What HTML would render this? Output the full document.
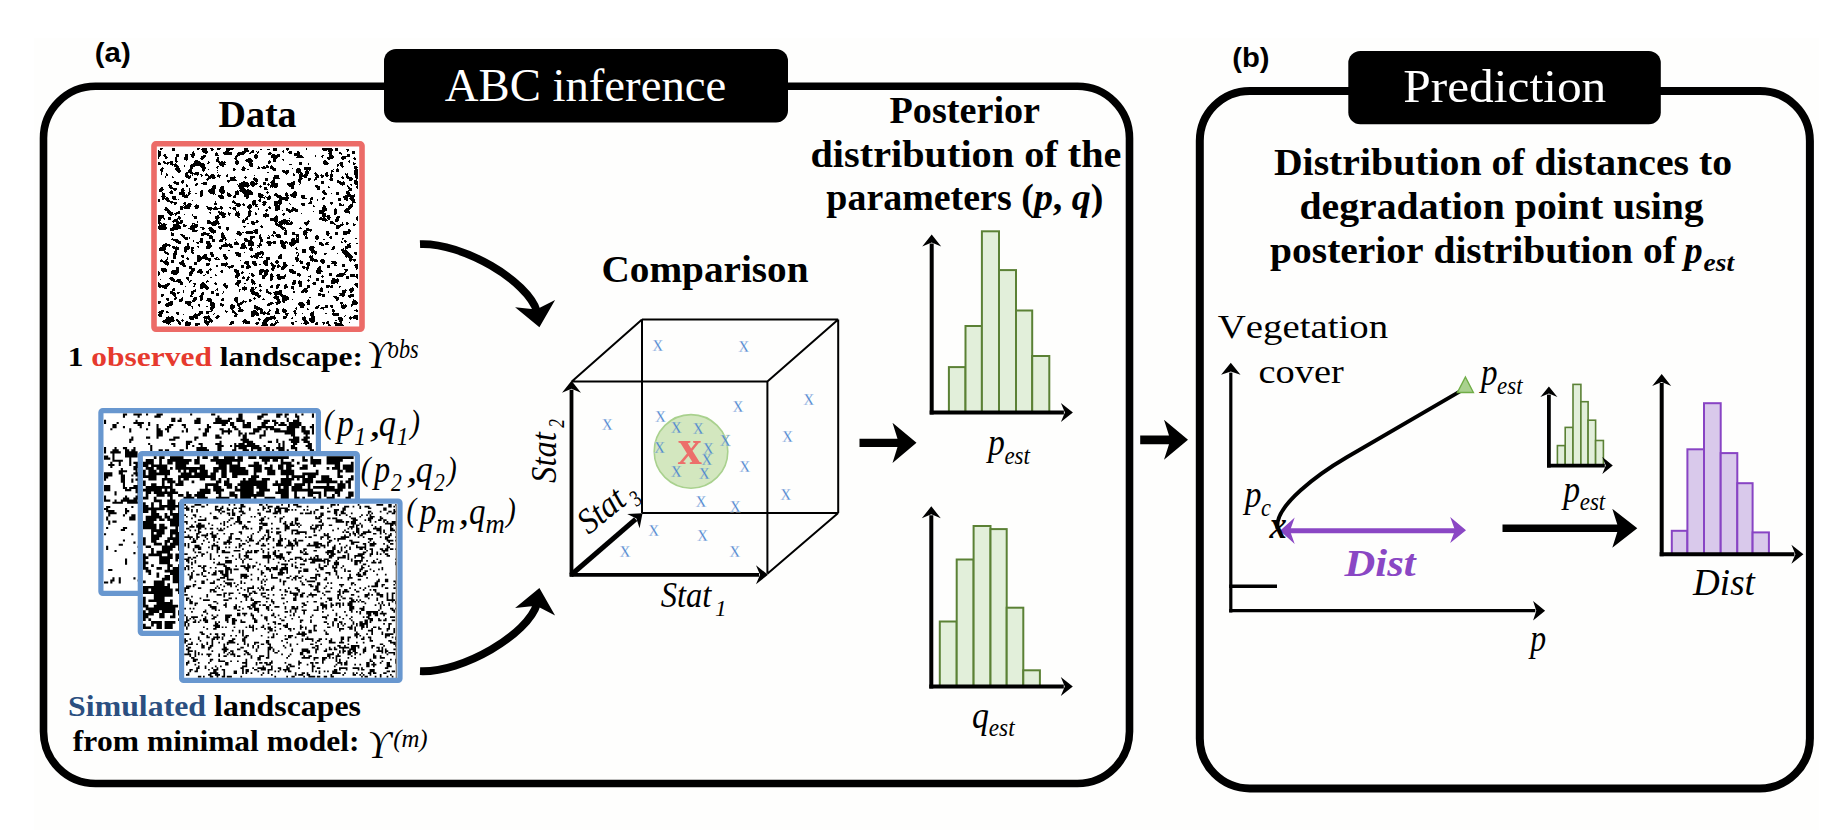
<!DOCTYPE html>
<html><head><meta charset="utf-8"><title>ABC inference and prediction</title>
<style>html,body{margin:0;padding:0;background:#fff;width:1848px;height:830px;overflow:hidden}svg{display:block}</style>
</head><body>
<svg width="1848" height="830" viewBox="0 0 1848 830" style="font-kerning:none;font-variant-ligatures:none">
<rect width="1848" height="830" fill="#fff"/>
<rect x="34" y="38" width="1785" height="792" fill="#fefefd"/>
<rect x="43.5" y="86.3" width="1086" height="697.2" rx="52" ry="52" fill="none" stroke="#000" stroke-width="7.6"/>
<rect x="1199.8" y="90.9" width="610.1" height="697.5" rx="50" ry="50" fill="none" stroke="#000" stroke-width="8"/>
<rect x="384" y="49" width="404" height="73.5" rx="12" fill="#000"/>
<rect x="1348.3" y="51" width="312.5" height="73.3" rx="12" fill="#000"/>
<text transform="translate(444.74 100.90) scale(0.9880 1)" fill="#fff"><tspan x="0.00" y="0" font-family="'Liberation Serif', serif" font-size="47.3">ABC inference</tspan></text>
<text transform="translate(1403.28 102.40) scale(1.0512 1)" fill="#fff"><tspan x="0.00" y="0" font-family="'Liberation Serif', serif" font-size="47">Prediction</tspan></text>
<text transform="translate(94.73 62.00) scale(1.0531 1)" fill="#000"><tspan x="0.00" y="0" font-family="'Liberation Sans', Arial, sans-serif" font-size="28" font-weight="bold">(a)</tspan></text>
<text transform="translate(1232.24 66.90) scale(1.0436 1)" fill="#000"><tspan x="0.00" y="0" font-family="'Liberation Sans', Arial, sans-serif" font-size="28" font-weight="bold">(b)</tspan></text>
<text transform="translate(218.43 126.50) scale(1.0006 1)" fill="#000"><tspan x="0.00" y="0" font-family="'Liberation Serif', serif" font-size="38" font-weight="bold">Data</tspan></text>
<rect x="154" y="143.8" width="208" height="185.5" rx="2" fill="#fff" stroke="#ec6b67" stroke-width="5.6"/>
<g transform="translate(158 148) scale(1)"><path d="M2 0.5h3M14 0.5h3M39 0.5h3M44 0.5h5M52 0.5h3M59 0.5h4M68 0.5h8M86 0.5h4M115 0.5h4M128 0.5h3M148 0.5h1M164 0.5h10M177 0.5h3M2 1.5h2M14 1.5h3M39 1.5h2M43 1.5h6M53 1.5h3M59 1.5h3M68 1.5h7M86 1.5h4M102 1.5h2M109 1.5h3M115 1.5h4M128 1.5h3M148 1.5h1M164 1.5h11M177 1.5h3M188 1.5h3M0 2.5h1M14 2.5h3M44 2.5h5M53 2.5h2M68 2.5h4M86 2.5h5M94 2.5h2M115 2.5h4M125 2.5h1M129 2.5h1M165 2.5h4M170 2.5h5M177 2.5h3M189 2.5h2M0 3.5h3M35 3.5h1M44 3.5h6M67 3.5h4M84 3.5h7M93 3.5h3M98 3.5h1M100 3.5h1M124 3.5h2M131 3.5h3M139 3.5h2M170 3.5h4M189 3.5h1M194 3.5h3M0 4.5h3M34 4.5h2M45 4.5h5M58 4.5h1M65 4.5h9M80 4.5h8M92 4.5h4M99 4.5h2M111 4.5h2M125 4.5h1M130 4.5h4M139 4.5h3M171 4.5h3M181 4.5h2M194 4.5h3M0 5.5h3M34 5.5h3M47 5.5h2M57 5.5h3M65 5.5h9M79 5.5h8M91 5.5h2M99 5.5h1M110 5.5h4M131 5.5h3M136 5.5h6M170 5.5h4M181 5.5h3M194 5.5h3M0 6.5h3M6 6.5h2M18 6.5h3M27 6.5h3M32 6.5h5M57 6.5h3M66 6.5h8M79 6.5h7M97 6.5h2M110 6.5h3M114 6.5h3M119 6.5h3M136 6.5h6M171 6.5h3M183 6.5h1M189 6.5h3M0 7.5h3M5 7.5h3M18 7.5h3M27 7.5h3M33 7.5h4M45 7.5h3M57 7.5h4M78 7.5h4M96 7.5h4M113 7.5h9M136 7.5h8M157 7.5h1M164 7.5h2M171 7.5h4M189 7.5h3M0 8.5h2M6 8.5h3M18 8.5h3M27 8.5h3M33 8.5h3M43 8.5h5M77 8.5h3M96 8.5h4M113 8.5h9M139 8.5h6M157 8.5h1M163 8.5h2M171 8.5h5M184 8.5h8M0 9.5h1M7 9.5h3M17 9.5h2M26 9.5h4M34 9.5h2M43 9.5h4M59 9.5h2M77 9.5h2M96 9.5h4M113 9.5h7M138 9.5h8M164 9.5h1M169 9.5h7M183 9.5h5M196 9.5h1M0 10.5h1M7 10.5h2M17 10.5h2M26 10.5h4M42 10.5h4M59 10.5h2M76 10.5h3M90 10.5h3M97 10.5h2M115 10.5h4M169 10.5h6M183 10.5h5M195 10.5h3M17 11.5h2M26 11.5h4M43 11.5h2M58 11.5h3M77 11.5h2M88 11.5h6M115 11.5h3M124 11.5h2M170 11.5h2M184 11.5h2M196 11.5h2M17 12.5h2M28 12.5h1M37 12.5h3M58 12.5h3M78 12.5h2M87 12.5h8M111 12.5h1M115 12.5h3M125 12.5h1M166 12.5h2M191 12.5h1M5 13.5h2M12 13.5h3M17 13.5h3M36 13.5h6M50 13.5h1M58 13.5h4M63 13.5h2M66 13.5h1M77 13.5h4M88 13.5h7M110 13.5h3M115 13.5h3M165 13.5h4M190 13.5h2M0 14.5h2M5 14.5h3M9 14.5h6M18 14.5h1M36 14.5h7M50 14.5h2M60 14.5h8M77 14.5h4M90 14.5h4M110 14.5h3M141 14.5h3M165 14.5h5M182 14.5h3M191 14.5h1M195 14.5h1M0 15.5h3M6 15.5h5M12 15.5h3M17 15.5h1M35 15.5h11M49 15.5h2M61 15.5h6M77 15.5h4M91 15.5h4M110 15.5h2M141 15.5h3M150 15.5h1M165 15.5h6M181 15.5h4M195 15.5h3M0 16.5h3M9 16.5h1M12 16.5h7M33 16.5h14M61 16.5h7M78 16.5h2M91 16.5h4M131 16.5h3M141 16.5h3M150 16.5h1M166 16.5h4M179 16.5h2M182 16.5h3M195 16.5h2M14 17.5h1M16 17.5h4M26 17.5h1M32 17.5h15M62 17.5h4M91 17.5h4M108 17.5h2M113 17.5h1M179 17.5h2M182 17.5h3M16 18.5h5M26 18.5h1M32 18.5h5M42 18.5h5M59 18.5h2M64 18.5h2M85 18.5h1M92 18.5h3M100 18.5h1M105 18.5h2M108 18.5h3M112 18.5h3M179 18.5h1M183 18.5h3M196 18.5h3M4 19.5h1M18 19.5h3M32 19.5h3M43 19.5h5M58 19.5h2M84 19.5h3M100 19.5h2M103 19.5h8M112 19.5h4M146 19.5h7M184 19.5h1M196 19.5h4M3 20.5h3M17 20.5h5M32 20.5h3M44 20.5h4M59 20.5h1M75 20.5h2M84 20.5h4M99 20.5h3M104 20.5h4M112 20.5h6M134 20.5h1M139 20.5h3M146 20.5h7M179 20.5h1M196 20.5h3M2 21.5h3M17 21.5h5M31 21.5h3M44 21.5h3M50 21.5h1M75 21.5h3M83 21.5h4M89 21.5h2M114 21.5h4M138 21.5h5M146 21.5h7M175 21.5h1M178 21.5h3M197 21.5h3M2 22.5h3M18 22.5h5M30 22.5h4M44 22.5h3M59 22.5h1M75 22.5h2M84 22.5h3M115 22.5h3M124 22.5h3M128 22.5h3M138 22.5h5M148 22.5h2M151 22.5h1M173 22.5h2M178 22.5h3M196 22.5h4M3 23.5h2M19 23.5h4M30 23.5h4M45 23.5h1M124 23.5h7M138 23.5h5M147 23.5h4M173 23.5h3M178 23.5h3M196 23.5h4M3 24.5h1M20 24.5h2M28 24.5h7M37 24.5h4M59 24.5h1M109 24.5h2M125 24.5h6M138 24.5h6M147 24.5h4M157 24.5h1M168 24.5h2M173 24.5h1M196 24.5h4M3 25.5h1M8 25.5h1M27 25.5h3M32 25.5h9M48 25.5h1M127 25.5h3M135 25.5h1M140 25.5h1M142 25.5h3M147 25.5h4M156 25.5h3M167 25.5h3M173 25.5h1M187 25.5h1M189 25.5h1M196 25.5h4M3 26.5h1M8 26.5h2M27 26.5h3M34 26.5h1M36 26.5h5M42 26.5h2M47 26.5h3M53 26.5h3M60 26.5h1M69 26.5h1M128 26.5h1M135 26.5h2M141 26.5h4M146 26.5h4M157 26.5h3M163 26.5h1M167 26.5h3M172 26.5h3M187 26.5h3M196 26.5h4M8 27.5h2M27 27.5h4M32 27.5h1M34 27.5h1M39 27.5h1M43 27.5h2M47 27.5h4M52 27.5h5M59 27.5h4M68 27.5h2M96 27.5h1M116 27.5h5M135 27.5h2M141 27.5h9M157 27.5h4M162 27.5h4M167 27.5h4M172 27.5h3M188 27.5h2M197 27.5h3M7 28.5h1M14 28.5h1M27 28.5h6M43 28.5h1M50 28.5h7M59 28.5h3M68 28.5h2M76 28.5h1M87 28.5h1M116 28.5h5M141 28.5h8M158 28.5h3M163 28.5h3M168 28.5h2M172 28.5h3M184 28.5h1M188 28.5h3M197 28.5h3M7 29.5h1M14 29.5h2M28 29.5h5M50 29.5h8M61 29.5h1M72 29.5h6M86 29.5h3M96 29.5h1M115 29.5h6M141 29.5h3M146 29.5h3M157 29.5h4M163 29.5h2M172 29.5h2M183 29.5h3M188 29.5h6M197 29.5h3M30 30.5h2M36 30.5h3M49 30.5h4M54 30.5h3M72 30.5h5M87 30.5h1M95 30.5h4M107 30.5h3M115 30.5h7M141 30.5h4M150 30.5h3M157 30.5h2M172 30.5h3M184 30.5h2M189 30.5h6M198 30.5h2M36 31.5h3M48 31.5h3M72 31.5h6M95 31.5h5M107 31.5h3M115 31.5h2M140 31.5h4M150 31.5h3M156 31.5h3M171 31.5h4M191 31.5h4M198 31.5h1M24 32.5h2M36 32.5h2M49 32.5h1M69 32.5h10M96 32.5h4M107 32.5h3M114 32.5h3M140 32.5h3M150 32.5h2M156 32.5h1M172 32.5h3M179 32.5h2M191 32.5h3M196 32.5h3M16 33.5h2M23 33.5h3M69 33.5h3M85 33.5h2M93 33.5h3M97 33.5h3M113 33.5h4M135 33.5h2M140 33.5h3M163 33.5h3M179 33.5h4M185 33.5h1M196 33.5h4M15 34.5h6M23 34.5h3M45 34.5h4M70 34.5h1M83 34.5h7M92 34.5h5M98 34.5h1M105 34.5h3M112 34.5h5M133 34.5h4M141 34.5h2M163 34.5h3M179 34.5h8M196 34.5h4M16 35.5h5M24 35.5h1M38 35.5h2M43 35.5h6M81 35.5h10M92 35.5h8M105 35.5h3M110 35.5h1M113 35.5h7M129 35.5h8M142 35.5h1M163 35.5h3M181 35.5h6M196 35.5h4M11 36.5h1M18 36.5h3M28 36.5h1M37 36.5h3M45 36.5h4M79 36.5h1M81 36.5h10M92 36.5h7M105 36.5h3M109 36.5h3M113 36.5h7M129 36.5h8M141 36.5h1M182 36.5h5M192 36.5h2M197 36.5h3M10 37.5h4M28 37.5h2M37 37.5h2M55 37.5h3M80 37.5h12M93 37.5h4M102 37.5h1M110 37.5h1M112 37.5h8M130 37.5h6M157 37.5h3M184 37.5h1M189 37.5h1M193 37.5h1M199 37.5h1M11 38.5h3M28 38.5h2M54 38.5h4M63 38.5h3M80 38.5h11M94 38.5h2M101 38.5h3M112 38.5h8M131 38.5h5M157 38.5h5M170 38.5h1M189 38.5h2M198 38.5h2M3 39.5h2M11 39.5h4M54 39.5h4M62 39.5h4M81 39.5h5M89 39.5h1M102 39.5h1M106 39.5h3M112 39.5h1M114 39.5h1M116 39.5h3M133 39.5h3M158 39.5h4M170 39.5h2M190 39.5h2M198 39.5h2M2 40.5h3M12 40.5h7M24 40.5h2M31 40.5h1M53 40.5h5M62 40.5h4M81 40.5h6M106 40.5h3M133 40.5h3M159 40.5h3M190 40.5h4M199 40.5h1M1 41.5h5M15 41.5h4M23 41.5h3M31 41.5h1M51 41.5h6M61 41.5h5M82 41.5h6M89 41.5h2M106 41.5h4M159 41.5h3M191 41.5h3M1 42.5h4M13 42.5h1M16 42.5h2M23 42.5h4M31 42.5h1M43 42.5h2M50 42.5h7M61 42.5h6M79 42.5h1M81 42.5h12M165 42.5h2M190 42.5h4M1 43.5h3M12 43.5h3M23 43.5h3M31 43.5h2M42 43.5h3M50 43.5h7M61 43.5h6M77 43.5h4M82 43.5h12M109 43.5h1M136 43.5h2M164 43.5h3M188 43.5h3M4 44.5h1M11 44.5h4M21 44.5h6M30 44.5h2M42 44.5h3M51 44.5h6M62 44.5h5M69 44.5h1M77 44.5h4M84 44.5h11M108 44.5h3M128 44.5h1M135 44.5h4M164 44.5h4M178 44.5h3M188 44.5h4M4 45.5h3M12 45.5h3M21 45.5h6M30 45.5h3M37 45.5h2M42 45.5h3M52 45.5h5M63 45.5h3M69 45.5h3M77 45.5h4M85 45.5h10M100 45.5h3M109 45.5h1M117 45.5h2M127 45.5h3M134 45.5h5M165 45.5h4M173 45.5h1M178 45.5h3M188 45.5h4M4 46.5h3M21 46.5h6M28 46.5h1M30 46.5h2M42 46.5h3M55 46.5h1M57 46.5h1M63 46.5h1M69 46.5h4M77 46.5h4M86 46.5h9M100 46.5h5M116 46.5h4M127 46.5h3M132 46.5h7M166 46.5h3M178 46.5h3M189 46.5h4M196 46.5h1M4 47.5h3M24 47.5h7M42 47.5h3M60 47.5h5M69 47.5h5M76 47.5h2M86 47.5h5M100 47.5h6M111 47.5h1M116 47.5h7M127 47.5h4M132 47.5h7M143 47.5h4M187 47.5h10M3 48.5h5M14 48.5h4M24 48.5h6M42 48.5h2M60 48.5h6M70 48.5h3M75 48.5h3M86 48.5h5M100 48.5h5M107 48.5h1M110 48.5h3M118 48.5h6M128 48.5h2M133 48.5h5M143 48.5h4M185 48.5h12M4 49.5h3M8 49.5h2M14 49.5h4M26 49.5h4M61 49.5h5M75 49.5h3M88 49.5h3M101 49.5h6M108 49.5h5M119 49.5h12M135 49.5h3M143 49.5h4M153 49.5h2M165 49.5h2M185 49.5h5M192 49.5h4M4 50.5h7M14 50.5h4M62 50.5h4M88 50.5h2M102 50.5h1M106 50.5h1M109 50.5h4M121 50.5h10M144 50.5h5M152 50.5h3M164 50.5h3M180 50.5h3M186 50.5h4M191 50.5h5M0 51.5h2M4 51.5h2M7 51.5h4M15 51.5h4M20 51.5h1M101 51.5h2M109 51.5h3M121 51.5h9M152 51.5h3M159 51.5h1M164 51.5h2M180 51.5h3M186 51.5h4M192 51.5h5M0 52.5h2M8 52.5h4M34 52.5h1M75 52.5h1M95 52.5h3M100 52.5h3M120 52.5h4M127 52.5h3M152 52.5h1M159 52.5h1M180 52.5h3M188 52.5h2M193 52.5h4M0 53.5h2M9 53.5h6M57 53.5h1M74 53.5h3M94 53.5h4M101 53.5h2M105 53.5h3M116 53.5h8M152 53.5h2M194 53.5h3M12 54.5h7M26 54.5h2M57 54.5h1M74 54.5h4M94 54.5h4M104 54.5h5M116 54.5h8M151 54.5h3M172 54.5h3M194 54.5h4M13 55.5h1M16 55.5h3M25 55.5h3M30 55.5h3M56 55.5h3M76 55.5h6M85 55.5h1M94 55.5h4M105 55.5h3M116 55.5h8M131 55.5h1M143 55.5h4M150 55.5h4M172 55.5h3M181 55.5h2M194 55.5h1M16 56.5h2M26 56.5h2M29 56.5h5M38 56.5h1M56 56.5h3M78 56.5h5M84 56.5h3M91 56.5h2M94 56.5h6M104 56.5h4M116 56.5h4M121 56.5h2M132 56.5h1M143 56.5h4M173 56.5h1M181 56.5h3M185 56.5h1M192 56.5h3M25 57.5h1M27 57.5h6M37 57.5h4M77 57.5h6M85 57.5h2M90 57.5h4M95 57.5h1M97 57.5h2M105 57.5h2M116 57.5h6M144 57.5h3M155 57.5h1M165 57.5h2M181 57.5h5M191 57.5h4M22 58.5h3M26 58.5h7M36 58.5h5M48 58.5h2M57 58.5h1M62 58.5h2M79 58.5h3M89 58.5h5M97 58.5h3M111 58.5h1M117 58.5h5M155 58.5h2M165 58.5h3M190 58.5h5M7 59.5h2M22 59.5h10M37 59.5h4M49 59.5h5M56 59.5h3M62 59.5h3M71 59.5h2M75 59.5h3M89 59.5h5M110 59.5h3M117 59.5h5M134 59.5h2M164 59.5h4M190 59.5h4M7 60.5h3M22 60.5h3M26 60.5h6M37 60.5h3M49 60.5h16M72 60.5h1M74 60.5h4M90 60.5h3M100 60.5h1M111 60.5h2M117 60.5h5M128 60.5h2M134 60.5h4M164 60.5h5M177 60.5h1M188 60.5h5M6 61.5h5M22 61.5h3M50 61.5h4M55 61.5h5M63 61.5h1M75 61.5h3M91 61.5h1M100 61.5h1M108 61.5h2M117 61.5h5M128 61.5h4M133 61.5h7M164 61.5h5M176 61.5h3M187 61.5h5M7 62.5h5M52 62.5h1M77 62.5h1M91 62.5h2M107 62.5h3M117 62.5h3M124 62.5h1M128 62.5h12M161 62.5h8M176 62.5h3M186 62.5h5M9 63.5h4M20 63.5h2M60 63.5h2M63 63.5h1M78 63.5h1M80 63.5h1M90 63.5h4M108 63.5h1M130 63.5h5M137 63.5h3M155 63.5h1M161 63.5h6M176 63.5h3M186 63.5h6M9 64.5h6M18 64.5h4M51 64.5h2M60 64.5h6M70 64.5h1M78 64.5h3M90 64.5h3M97 64.5h1M131 64.5h2M161 64.5h5M176 64.5h3M187 64.5h5M10 65.5h5M16 65.5h6M52 65.5h1M61 65.5h7M70 65.5h3M77 65.5h5M90 65.5h3M97 65.5h2M107 65.5h2M125 65.5h2M143 65.5h1M161 65.5h7M176 65.5h3M191 65.5h1M11 66.5h5M17 66.5h2M26 66.5h1M34 66.5h1M61 66.5h7M70 66.5h2M77 66.5h5M90 66.5h3M97 66.5h2M105 66.5h6M124 66.5h3M164 66.5h4M176 66.5h2M0 67.5h6M12 67.5h2M17 67.5h1M34 67.5h1M59 67.5h2M63 67.5h4M71 67.5h1M77 67.5h5M90 67.5h3M105 67.5h6M118 67.5h1M125 67.5h1M164 67.5h4M169 67.5h3M0 68.5h6M20 68.5h2M35 68.5h4M57 68.5h4M64 68.5h4M79 68.5h2M89 68.5h3M105 68.5h6M117 68.5h3M164 68.5h8M179 68.5h3M199 68.5h1M0 69.5h6M10 69.5h3M20 69.5h3M36 69.5h3M57 69.5h5M64 69.5h3M80 69.5h2M88 69.5h2M107 69.5h1M116 69.5h4M162 69.5h2M165 69.5h2M169 69.5h4M178 69.5h4M198 69.5h2M0 70.5h4M5 70.5h2M10 70.5h3M19 70.5h4M36 70.5h3M57 70.5h4M87 70.5h3M112 70.5h8M131 70.5h1M161 70.5h7M169 70.5h3M178 70.5h3M198 70.5h2M0 71.5h3M6 71.5h1M10 71.5h3M16 71.5h4M21 71.5h1M58 71.5h2M85 71.5h1M87 71.5h3M112 71.5h8M125 71.5h3M161 71.5h8M170 71.5h2M177 71.5h4M198 71.5h2M0 72.5h3M15 72.5h5M22 72.5h3M49 72.5h3M57 72.5h3M84 72.5h4M98 72.5h2M112 72.5h8M123 72.5h9M150 72.5h1M164 72.5h6M177 72.5h4M199 72.5h1M0 73.5h2M14 73.5h7M22 73.5h3M39 73.5h1M49 73.5h4M55 73.5h6M84 73.5h3M93 73.5h3M98 73.5h3M116 73.5h4M121 73.5h9M131 73.5h1M133 73.5h1M149 73.5h3M167 73.5h1M172 73.5h3M177 73.5h3M0 74.5h3M15 74.5h1M18 74.5h7M39 74.5h1M49 74.5h12M84 74.5h3M93 74.5h7M117 74.5h2M120 74.5h11M132 74.5h3M146 74.5h5M172 74.5h4M184 74.5h1M188 74.5h2M0 75.5h4M5 75.5h2M18 75.5h6M34 75.5h3M49 75.5h13M89 75.5h2M93 75.5h4M117 75.5h3M121 75.5h14M146 75.5h5M172 75.5h5M184 75.5h1M188 75.5h3M195 75.5h1M1 76.5h1M3 76.5h6M15 76.5h6M25 76.5h2M34 76.5h1M36 76.5h4M53 76.5h6M60 76.5h1M94 76.5h3M117 76.5h8M126 76.5h1M128 76.5h6M147 76.5h3M176 76.5h2M182 76.5h4M188 76.5h2M195 76.5h3M1 77.5h7M15 77.5h7M25 77.5h4M33 77.5h7M54 77.5h4M103 77.5h1M118 77.5h6M148 77.5h1M178 77.5h7M195 77.5h2M0 78.5h8M15 78.5h8M25 78.5h3M32 78.5h8M60 78.5h3M85 78.5h3M102 78.5h3M120 78.5h5M178 78.5h5M0 79.5h9M14 79.5h9M32 79.5h7M42 79.5h4M51 79.5h3M60 79.5h3M68 79.5h3M86 79.5h1M103 79.5h2M122 79.5h5M142 79.5h1M178 79.5h4M0 80.5h9M12 80.5h11M30 80.5h7M44 80.5h3M50 80.5h5M61 80.5h2M68 80.5h3M123 80.5h5M141 80.5h3M148 80.5h3M178 80.5h3M1 81.5h7M12 81.5h8M32 81.5h5M44 81.5h2M51 81.5h5M68 81.5h3M97 81.5h3M124 81.5h2M127 81.5h1M148 81.5h6M190 81.5h2M12 82.5h4M34 82.5h6M51 82.5h7M69 82.5h1M95 82.5h5M126 82.5h3M146 82.5h8M190 82.5h3M34 83.5h5M52 83.5h6M79 83.5h3M88 83.5h7M96 83.5h4M115 83.5h2M127 83.5h2M145 83.5h4M152 83.5h1M168 83.5h3M185 83.5h8M13 84.5h1M45 84.5h3M53 84.5h5M64 84.5h1M79 84.5h4M84 84.5h2M87 84.5h13M115 84.5h3M126 84.5h3M134 84.5h3M145 84.5h5M168 84.5h3M177 84.5h3M185 84.5h7M13 85.5h3M43 85.5h9M55 85.5h1M63 85.5h3M78 85.5h6M88 85.5h7M97 85.5h3M115 85.5h3M126 85.5h3M134 85.5h3M145 85.5h4M168 85.5h4M177 85.5h3M185 85.5h7M13 86.5h3M22 86.5h3M43 86.5h8M63 86.5h3M79 86.5h5M102 86.5h1M114 86.5h1M118 86.5h4M126 86.5h3M134 86.5h7M145 86.5h4M168 86.5h3M177 86.5h3M185 86.5h4M13 87.5h3M23 87.5h4M43 87.5h3M49 87.5h5M63 87.5h4M81 87.5h2M101 87.5h2M110 87.5h1M113 87.5h3M117 87.5h6M138 87.5h3M146 87.5h1M148 87.5h1M158 87.5h2M169 87.5h2M24 88.5h3M51 88.5h4M63 88.5h4M92 88.5h5M101 88.5h2M111 88.5h1M115 88.5h1M118 88.5h5M138 88.5h3M147 88.5h2M157 88.5h4M172 88.5h2M25 89.5h5M31 89.5h1M51 89.5h4M63 89.5h5M92 89.5h5M101 89.5h3M109 89.5h3M119 89.5h4M138 89.5h1M140 89.5h1M147 89.5h3M157 89.5h4M171 89.5h3M14 90.5h1M26 90.5h4M31 90.5h1M42 90.5h3M51 90.5h4M64 90.5h4M86 90.5h3M92 90.5h3M101 90.5h3M109 90.5h3M134 90.5h3M138 90.5h3M147 90.5h3M157 90.5h4M172 90.5h2M184 90.5h2M197 90.5h2M13 91.5h7M27 91.5h3M42 91.5h3M54 91.5h3M62 91.5h4M67 91.5h2M77 91.5h1M86 91.5h4M92 91.5h2M102 91.5h3M133 91.5h4M138 91.5h3M158 91.5h2M165 91.5h2M184 91.5h1M15 92.5h6M35 92.5h1M42 92.5h3M54 92.5h3M61 92.5h4M67 92.5h1M86 92.5h8M102 92.5h3M122 92.5h3M133 92.5h8M186 92.5h2M17 93.5h6M35 93.5h1M41 93.5h4M48 93.5h4M54 93.5h3M61 93.5h4M78 93.5h1M87 93.5h8M102 93.5h3M109 93.5h4M115 93.5h3M122 93.5h4M127 93.5h2M133 93.5h8M157 93.5h1M183 93.5h1M186 93.5h3M18 94.5h5M38 94.5h3M42 94.5h3M48 94.5h4M67 94.5h1M76 94.5h4M86 94.5h1M90 94.5h6M102 94.5h1M108 94.5h10M122 94.5h8M131 94.5h10M161 94.5h3M168 94.5h3M183 94.5h2M187 94.5h1M7 95.5h2M20 95.5h3M29 95.5h2M39 95.5h2M48 95.5h5M67 95.5h2M71 95.5h1M76 95.5h5M84 95.5h3M90 95.5h6M101 95.5h2M109 95.5h5M115 95.5h3M122 95.5h6M129 95.5h1M131 95.5h7M161 95.5h4M167 95.5h3M191 95.5h2M198 95.5h2M5 96.5h7M29 96.5h2M49 96.5h4M65 96.5h9M76 96.5h5M83 96.5h4M90 96.5h6M101 96.5h3M110 96.5h3M123 96.5h4M131 96.5h6M161 96.5h5M167 96.5h4M189 96.5h3M4 97.5h9M29 97.5h2M49 97.5h5M63 97.5h11M83 97.5h5M90 97.5h6M99 97.5h5M110 97.5h3M123 97.5h5M132 97.5h4M163 97.5h3M189 97.5h4M4 98.5h5M11 98.5h1M14 98.5h3M18 98.5h1M27 98.5h5M39 98.5h2M48 98.5h6M63 98.5h7M71 98.5h4M83 98.5h5M93 98.5h1M100 98.5h2M123 98.5h5M133 98.5h1M152 98.5h4M175 98.5h2M187 98.5h6M2 99.5h6M14 99.5h7M26 99.5h6M33 99.5h3M40 99.5h1M48 99.5h5M61 99.5h3M72 99.5h3M82 99.5h7M92 99.5h2M99 99.5h1M101 99.5h1M124 99.5h4M138 99.5h1M151 99.5h6M174 99.5h3M187 99.5h6M1 100.5h7M15 100.5h6M26 100.5h6M33 100.5h3M48 100.5h4M61 100.5h3M82 100.5h5M88 100.5h1M91 100.5h4M125 100.5h3M137 100.5h2M151 100.5h5M174 100.5h3M185 100.5h1M187 100.5h3M1 101.5h7M17 101.5h4M26 101.5h5M33 101.5h2M62 101.5h1M91 101.5h4M138 101.5h2M144 101.5h4M151 101.5h5M173 101.5h3M183 101.5h3M187 101.5h1M1 102.5h6M17 102.5h2M26 102.5h3M33 102.5h3M70 102.5h2M92 102.5h3M144 102.5h4M152 102.5h5M183 102.5h6M6 103.5h2M16 103.5h3M26 103.5h3M33 103.5h2M102 103.5h3M144 103.5h4M153 103.5h6M184 103.5h6M6 104.5h4M16 104.5h3M27 104.5h1M33 104.5h3M52 104.5h3M77 104.5h4M86 104.5h1M99 104.5h7M138 104.5h2M144 104.5h4M153 104.5h6M184 104.5h7M196 104.5h3M7 105.5h4M15 105.5h4M34 105.5h2M52 105.5h3M77 105.5h6M97 105.5h9M138 105.5h1M140 105.5h1M154 105.5h1M156 105.5h3M166 105.5h3M179 105.5h1M185 105.5h7M196 105.5h3M9 106.5h2M15 106.5h4M46 106.5h3M52 106.5h4M65 106.5h3M78 106.5h5M97 106.5h6M104 106.5h2M122 106.5h2M140 106.5h1M157 106.5h1M166 106.5h2M186 106.5h7M197 106.5h2M15 107.5h3M23 107.5h3M39 107.5h3M45 107.5h4M53 107.5h3M65 107.5h3M78 107.5h5M93 107.5h1M95 107.5h6M104 107.5h1M121 107.5h3M139 107.5h2M152 107.5h1M154 107.5h1M187 107.5h7M15 108.5h3M23 108.5h3M39 108.5h4M44 108.5h5M53 108.5h3M65 108.5h4M80 108.5h3M92 108.5h9M103 108.5h1M120 108.5h4M139 108.5h1M151 108.5h4M187 108.5h8M9 109.5h1M15 109.5h3M24 109.5h2M29 109.5h1M39 109.5h11M58 109.5h2M66 109.5h4M93 109.5h2M96 109.5h4M101 109.5h4M108 109.5h4M120 109.5h4M137 109.5h3M151 109.5h4M188 109.5h1M190 109.5h5M9 110.5h1M15 110.5h3M28 110.5h3M39 110.5h14M56 110.5h3M60 110.5h1M66 110.5h4M98 110.5h2M108 110.5h4M120 110.5h4M137 110.5h4M152 110.5h4M191 110.5h3M3 111.5h1M8 111.5h2M29 111.5h2M39 111.5h5M47 111.5h6M57 111.5h5M67 111.5h2M108 111.5h4M137 111.5h4M152 111.5h7M163 111.5h3M191 111.5h7M2 112.5h3M7 112.5h2M13 112.5h3M24 112.5h2M39 112.5h4M50 112.5h3M82 112.5h1M106 112.5h4M118 112.5h2M138 112.5h3M142 112.5h1M152 112.5h8M162 112.5h5M191 112.5h3M195 112.5h3M2 113.5h8M13 113.5h3M23 113.5h3M39 113.5h3M51 113.5h1M87 113.5h4M94 113.5h4M105 113.5h5M117 113.5h4M138 113.5h2M141 113.5h4M154 113.5h1M156 113.5h4M162 113.5h5M173 113.5h5M192 113.5h1M196 113.5h1M5 114.5h6M13 114.5h3M21 114.5h5M36 114.5h3M68 114.5h1M86 114.5h5M94 114.5h4M105 114.5h5M113 114.5h1M117 114.5h4M125 114.5h3M142 114.5h3M149 114.5h3M163 114.5h4M174 114.5h5M6 115.5h5M21 115.5h6M36 115.5h3M48 115.5h4M63 115.5h7M86 115.5h5M94 115.5h5M105 115.5h5M112 115.5h3M118 115.5h2M125 115.5h3M142 115.5h3M148 115.5h4M164 115.5h2M173 115.5h6M7 116.5h4M22 116.5h5M36 116.5h3M48 116.5h4M63 116.5h7M88 116.5h3M95 116.5h4M101 116.5h2M106 116.5h4M113 116.5h3M120 116.5h1M125 116.5h4M148 116.5h4M176 116.5h2M184 116.5h3M197 116.5h3M9 117.5h1M24 117.5h4M48 117.5h3M58 117.5h2M63 117.5h6M73 117.5h3M83 117.5h3M89 117.5h3M96 117.5h3M107 117.5h3M113 117.5h5M119 117.5h3M125 117.5h5M134 117.5h2M149 117.5h3M169 117.5h3M176 117.5h3M184 117.5h3M196 117.5h4M25 118.5h3M31 118.5h3M58 118.5h2M67 118.5h1M69 118.5h7M83 118.5h3M88 118.5h5M114 118.5h4M119 118.5h4M124 118.5h5M144 118.5h3M149 118.5h2M161 118.5h2M169 118.5h3M184 118.5h3M197 118.5h3M18 119.5h3M31 119.5h3M70 119.5h5M83 119.5h3M88 119.5h5M114 119.5h3M119 119.5h2M123 119.5h5M144 119.5h7M160 119.5h3M169 119.5h3M197 119.5h3M3 120.5h5M18 120.5h3M31 120.5h6M52 120.5h1M71 120.5h1M88 120.5h3M113 120.5h4M123 120.5h4M145 120.5h2M148 120.5h3M159 120.5h4M198 120.5h2M3 121.5h6M18 121.5h3M33 121.5h4M41 121.5h3M51 121.5h3M76 121.5h3M102 121.5h4M108 121.5h2M113 121.5h3M123 121.5h3M131 121.5h4M148 121.5h2M159 121.5h4M186 121.5h4M198 121.5h1M3 122.5h6M14 122.5h7M33 122.5h4M40 122.5h4M50 122.5h1M52 122.5h1M63 122.5h2M76 122.5h5M101 122.5h10M114 122.5h2M131 122.5h5M149 122.5h1M158 122.5h6M187 122.5h3M0 123.5h1M4 123.5h5M13 123.5h8M32 123.5h4M39 123.5h6M48 123.5h3M62 123.5h3M76 123.5h5M84 123.5h1M101 123.5h10M131 123.5h7M158 123.5h7M187 123.5h2M0 124.5h2M5 124.5h1M13 124.5h8M31 124.5h4M39 124.5h6M48 124.5h3M63 124.5h2M77 124.5h4M83 124.5h3M101 124.5h4M106 124.5h4M132 124.5h6M158 124.5h5M186 124.5h2M0 125.5h2M13 125.5h7M31 125.5h4M42 125.5h2M49 125.5h2M78 125.5h4M83 125.5h2M91 125.5h1M93 125.5h2M101 125.5h3M106 125.5h4M113 125.5h1M134 125.5h4M139 125.5h3M159 125.5h4M171 125.5h3M181 125.5h6M0 126.5h2M15 126.5h4M31 126.5h3M47 126.5h1M57 126.5h1M78 126.5h4M93 126.5h3M101 126.5h3M106 126.5h4M112 126.5h3M119 126.5h3M127 126.5h1M139 126.5h4M171 126.5h3M179 126.5h9M192 126.5h5M198 126.5h2M0 127.5h1M31 127.5h3M45 127.5h2M57 127.5h2M77 127.5h5M93 127.5h4M104 127.5h5M112 127.5h3M118 127.5h4M126 127.5h2M139 127.5h4M152 127.5h1M164 127.5h1M171 127.5h3M178 127.5h8M192 127.5h5M198 127.5h2M77 128.5h4M85 128.5h1M90 128.5h1M94 128.5h2M104 128.5h4M112 128.5h4M119 128.5h9M141 128.5h1M150 128.5h3M163 128.5h3M178 128.5h7M188 128.5h3M192 128.5h8M12 129.5h3M28 129.5h3M52 129.5h2M77 129.5h3M84 129.5h3M89 129.5h3M104 129.5h3M112 129.5h3M119 129.5h8M152 129.5h1M164 129.5h1M188 129.5h3M198 129.5h2M11 130.5h5M28 130.5h3M79 130.5h1M84 130.5h3M89 130.5h2M104 130.5h3M112 130.5h3M119 130.5h8M158 130.5h3M174 130.5h3M179 130.5h1M188 130.5h3M199 130.5h1M2 131.5h1M12 131.5h5M19 131.5h4M29 131.5h2M88 131.5h3M93 131.5h2M112 131.5h3M120 131.5h3M150 131.5h1M158 131.5h3M174 131.5h7M13 132.5h4M18 132.5h5M30 132.5h1M32 132.5h2M49 132.5h1M79 132.5h4M88 132.5h2M93 132.5h3M112 132.5h2M135 132.5h3M141 132.5h1M149 132.5h3M158 132.5h3M163 132.5h3M173 132.5h8M15 133.5h9M31 133.5h2M48 133.5h3M79 133.5h4M93 133.5h4M135 133.5h3M140 133.5h4M150 133.5h1M163 133.5h3M173 133.5h8M0 134.5h1M20 134.5h5M31 134.5h1M44 134.5h2M48 134.5h1M57 134.5h1M78 134.5h5M93 134.5h4M134 134.5h4M140 134.5h4M155 134.5h3M163 134.5h3M173 134.5h7M0 135.5h2M9 135.5h3M22 135.5h3M35 135.5h3M43 135.5h4M56 135.5h3M66 135.5h2M77 135.5h5M86 135.5h2M94 135.5h4M134 135.5h4M140 135.5h4M154 135.5h4M173 135.5h4M179 135.5h1M197 135.5h3M0 136.5h3M7 136.5h5M22 136.5h3M36 136.5h2M42 136.5h6M57 136.5h2M65 136.5h3M77 136.5h4M94 136.5h1M96 136.5h1M101 136.5h2M119 136.5h3M127 136.5h2M134 136.5h3M141 136.5h3M155 136.5h3M196 136.5h4M0 137.5h11M36 137.5h1M42 137.5h7M65 137.5h5M79 137.5h2M101 137.5h2M113 137.5h2M118 137.5h4M126 137.5h3M141 137.5h3M149 137.5h3M168 137.5h4M173 137.5h2M197 137.5h3M0 138.5h10M27 138.5h1M35 138.5h2M42 138.5h8M66 138.5h4M80 138.5h1M86 138.5h1M101 138.5h3M112 138.5h3M118 138.5h3M126 138.5h4M133 138.5h3M141 138.5h3M149 138.5h3M168 138.5h7M181 138.5h2M198 138.5h2M1 139.5h2M4 139.5h5M42 139.5h9M67 139.5h3M84 139.5h5M93 139.5h3M97 139.5h2M112 139.5h3M118 139.5h3M126 139.5h4M133 139.5h3M149 139.5h3M163 139.5h1M168 139.5h3M172 139.5h3M181 139.5h1M194 139.5h1M199 139.5h1M6 140.5h3M15 140.5h2M42 140.5h3M47 140.5h4M59 140.5h1M68 140.5h1M84 140.5h5M93 140.5h3M97 140.5h1M118 140.5h2M126 140.5h2M133 140.5h3M146 140.5h4M162 140.5h3M192 140.5h4M14 141.5h3M37 141.5h1M48 141.5h2M58 141.5h2M81 141.5h2M84 141.5h5M92 141.5h5M102 141.5h1M108 141.5h2M135 141.5h1M145 141.5h4M162 141.5h3M187 141.5h1M191 141.5h5M14 142.5h3M25 142.5h1M35 142.5h3M57 142.5h1M59 142.5h1M81 142.5h1M86 142.5h1M92 142.5h4M101 142.5h3M108 142.5h2M121 142.5h3M144 142.5h6M161 142.5h4M184 142.5h5M191 142.5h5M12 143.5h3M25 143.5h1M33 143.5h5M53 143.5h3M65 143.5h1M81 143.5h1M92 143.5h5M102 143.5h1M108 143.5h3M117 143.5h7M135 143.5h2M143 143.5h7M162 143.5h3M170 143.5h1M184 143.5h4M192 143.5h3M12 144.5h5M19 144.5h3M25 144.5h1M33 144.5h3M44 144.5h2M53 144.5h3M65 144.5h1M93 144.5h7M108 144.5h5M115 144.5h9M135 144.5h2M143 144.5h3M147 144.5h2M170 144.5h1M184 144.5h4M192 144.5h2M12 145.5h6M19 145.5h2M33 145.5h3M43 145.5h3M53 145.5h3M58 145.5h3M64 145.5h1M93 145.5h8M110 145.5h4M116 145.5h8M160 145.5h3M181 145.5h6M3 146.5h3M14 146.5h4M33 146.5h2M43 146.5h3M58 146.5h3M94 146.5h7M112 146.5h1M116 146.5h9M160 146.5h7M182 146.5h5M192 146.5h4M3 147.5h3M15 147.5h3M32 147.5h2M42 147.5h3M58 147.5h3M97 147.5h6M117 147.5h2M122 147.5h6M160 147.5h3M164 147.5h3M181 147.5h6M190 147.5h6M3 148.5h2M16 148.5h2M32 148.5h3M41 148.5h4M99 148.5h4M116 148.5h5M123 148.5h7M164 148.5h3M175 148.5h4M184 148.5h2M190 148.5h6M17 149.5h2M24 149.5h1M36 149.5h3M42 149.5h3M77 149.5h3M96 149.5h1M100 149.5h2M115 149.5h6M124 149.5h7M151 149.5h2M176 149.5h5M191 149.5h2M8 150.5h3M16 150.5h3M23 150.5h2M35 150.5h4M42 150.5h3M49 150.5h4M64 150.5h2M76 150.5h4M95 150.5h3M105 150.5h1M116 150.5h5M124 150.5h7M177 150.5h4M8 151.5h3M16 151.5h2M21 151.5h4M35 151.5h4M42 151.5h3M49 151.5h5M63 151.5h3M76 151.5h4M91 151.5h2M96 151.5h1M104 151.5h3M118 151.5h4M124 151.5h7M134 151.5h1M150 151.5h1M178 151.5h3M195 151.5h1M9 152.5h2M21 152.5h4M34 152.5h4M42 152.5h2M48 152.5h6M63 152.5h3M76 152.5h4M85 152.5h1M91 152.5h3M119 152.5h3M124 152.5h5M149 152.5h3M178 152.5h2M195 152.5h3M0 153.5h3M12 153.5h3M21 153.5h3M27 153.5h6M34 153.5h3M50 153.5h4M77 153.5h3M84 153.5h5M91 153.5h2M119 153.5h4M124 153.5h3M149 153.5h3M194 153.5h5M0 154.5h3M10 154.5h5M27 154.5h7M52 154.5h4M78 154.5h2M82 154.5h4M87 154.5h1M112 154.5h3M117 154.5h6M125 154.5h2M141 154.5h4M148 154.5h4M182 154.5h3M194 154.5h6M0 155.5h2M8 155.5h7M27 155.5h6M52 155.5h5M62 155.5h2M79 155.5h6M110 155.5h6M118 155.5h4M140 155.5h6M149 155.5h3M182 155.5h3M194 155.5h6M7 156.5h8M29 156.5h4M40 156.5h2M52 156.5h5M62 156.5h4M73 156.5h2M79 156.5h5M109 156.5h5M118 156.5h2M140 156.5h7M149 156.5h3M183 156.5h1M185 156.5h1M187 156.5h1M193 156.5h6M7 157.5h7M30 157.5h3M40 157.5h2M52 157.5h5M62 157.5h4M72 157.5h5M79 157.5h3M96 157.5h2M109 157.5h3M141 157.5h6M160 157.5h2M167 157.5h3M172 157.5h3M183 157.5h6M193 157.5h2M8 158.5h3M33 158.5h2M41 158.5h1M48 158.5h2M53 158.5h4M64 158.5h1M72 158.5h5M80 158.5h2M96 158.5h4M142 158.5h4M158 158.5h3M167 158.5h3M172 158.5h3M183 158.5h6M193 158.5h1M34 159.5h1M52 159.5h5M72 159.5h5M81 159.5h2M96 159.5h6M138 159.5h1M142 159.5h4M157 159.5h4M163 159.5h7M173 159.5h2M183 159.5h5M34 160.5h1M52 160.5h4M72 160.5h4M80 160.5h3M96 160.5h8M118 160.5h2M125 160.5h1M137 160.5h2M149 160.5h1M157 160.5h3M162 160.5h4M184 160.5h3M52 161.5h3M73 161.5h2M81 161.5h4M98 161.5h7M111 161.5h1M118 161.5h3M124 161.5h4M138 161.5h1M149 161.5h2M165 161.5h1M174 161.5h2M198 161.5h1M3 162.5h3M53 162.5h2M67 162.5h1M74 162.5h2M80 162.5h6M95 162.5h3M99 162.5h1M102 162.5h3M111 162.5h2M118 162.5h3M124 162.5h5M136 162.5h2M174 162.5h3M196 162.5h4M1 163.5h5M8 163.5h2M41 163.5h4M48 163.5h6M67 163.5h3M74 163.5h3M80 163.5h5M93 163.5h6M102 163.5h3M106 163.5h1M110 163.5h2M117 163.5h4M124 163.5h5M135 163.5h3M155 163.5h1M174 163.5h3M198 163.5h2M0 164.5h5M8 164.5h3M18 164.5h3M41 164.5h4M48 164.5h3M68 164.5h1M74 164.5h4M93 164.5h7M102 164.5h6M109 164.5h2M117 164.5h4M125 164.5h3M136 164.5h2M153 164.5h3M175 164.5h1M1 165.5h4M18 165.5h3M37 165.5h1M40 165.5h5M48 165.5h3M56 165.5h1M76 165.5h3M93 165.5h8M102 165.5h10M117 165.5h5M127 165.5h4M136 165.5h3M144 165.5h1M152 165.5h4M167 165.5h2M174 165.5h7M0 166.5h4M19 166.5h2M25 166.5h1M36 166.5h7M55 166.5h1M77 166.5h3M93 166.5h8M105 166.5h2M109 166.5h3M127 166.5h3M137 166.5h1M152 166.5h4M174 166.5h7M0 167.5h4M35 167.5h7M50 167.5h1M59 167.5h2M76 167.5h3M93 167.5h4M98 167.5h3M116 167.5h1M128 167.5h2M137 167.5h1M152 167.5h4M175 167.5h6M187 167.5h1M196 167.5h4M1 168.5h3M10 168.5h1M13 168.5h2M31 168.5h9M46 168.5h6M58 168.5h4M76 168.5h3M93 168.5h3M112 168.5h5M125 168.5h4M146 168.5h1M153 168.5h4M186 168.5h1M192 168.5h1M195 168.5h5M8 169.5h8M31 169.5h9M45 169.5h7M57 169.5h4M108 169.5h10M125 169.5h4M134 169.5h1M144 169.5h4M153 169.5h4M180 169.5h4M191 169.5h9M8 170.5h8M31 170.5h5M37 170.5h3M46 170.5h7M58 170.5h2M100 170.5h2M107 170.5h11M125 170.5h3M133 170.5h2M144 170.5h4M151 170.5h6M180 170.5h5M191 170.5h3M195 170.5h5M7 171.5h9M18 171.5h2M24 171.5h1M32 171.5h4M46 171.5h1M48 171.5h1M50 171.5h4M86 171.5h2M100 171.5h3M106 171.5h8M116 171.5h1M144 171.5h4M151 171.5h6M180 171.5h5M192 171.5h1M198 171.5h2M5 172.5h12M18 172.5h3M23 172.5h3M46 172.5h3M51 172.5h4M85 172.5h4M101 172.5h1M105 172.5h6M118 172.5h2M145 172.5h4M151 172.5h6M177 172.5h2M181 172.5h4M4 173.5h12M19 173.5h3M24 173.5h1M28 173.5h2M46 173.5h9M73 173.5h3M84 173.5h8M105 173.5h5M117 173.5h1M119 173.5h1M137 173.5h2M146 173.5h4M152 173.5h5M169 173.5h2M181 173.5h3M5 174.5h8M20 174.5h3M27 174.5h6M46 174.5h6M53 174.5h1M72 174.5h4M85 174.5h7M98 174.5h3M104 174.5h5M117 174.5h4M133 174.5h3M146 174.5h5M153 174.5h3M158 174.5h2M164 174.5h3M168 174.5h3M176 174.5h3M182 174.5h2M191 174.5h1M8 175.5h4M20 175.5h3M27 175.5h6M37 175.5h5M47 175.5h4M72 175.5h4M85 175.5h1M87 175.5h5M97 175.5h4M104 175.5h5M113 175.5h2M116 175.5h3M133 175.5h3M143 175.5h1M145 175.5h6M157 175.5h3M165 175.5h2M168 175.5h3M176 175.5h8M10 176.5h1M12 176.5h1M21 176.5h2M27 176.5h6M37 176.5h5M48 176.5h3M71 176.5h3M98 176.5h2M104 176.5h6M112 176.5h6M134 176.5h2M147 176.5h2M157 176.5h3M165 176.5h1M170 176.5h2M177 176.5h8M27 177.5h5M37 177.5h3M49 177.5h1M103 177.5h7M112 177.5h5M170 177.5h3M177 177.5h9" stroke="#000" stroke-width="1" fill="none"/></g>
<text transform="translate(67.78 365.90) scale(1.1314 1)" fill="#000"><tspan x="0.00" y="0" font-family="'Liberation Serif', serif" font-size="27.8" font-weight="bold">1 </tspan><tspan x="20.85" y="0" font-family="'Liberation Serif', serif" font-size="27.8" font-weight="bold" fill="#e63a2e">observed</tspan><tspan x="127.41" y="0" font-family="'Liberation Serif', serif" font-size="27.8" font-weight="bold"> landscape:</tspan></text>
<text transform="translate(366.92 368.00) scale(0.8796 1)" fill="#000"><tspan x="0.00" y="0" font-family="'Liberation Serif', serif" font-size="39.5" font-style="italic">ϒ</tspan></text>
<text transform="translate(387.84 357.70) scale(0.8221 1)" fill="#000"><tspan x="0.00" y="0" font-family="'Liberation Serif', serif" font-size="27" font-style="italic">obs</tspan></text>
<rect x="100.89999999999999" y="410.6" width="217.5" height="182.8" rx="2" fill="#fff" stroke="#6897cf" stroke-width="5.2"/>
<g transform="translate(104 413.5) scale(2.1)"><path d="M9 0.5h2M14 0.5h4M20 0.5h1M25 0.5h3M41 0.5h1M51 0.5h2M64 0.5h2M75 0.5h3M82 0.5h3M86 0.5h2M91 0.5h1M94 0.5h1M99 0.5h1M9 1.5h1M16 1.5h1M24 1.5h3M54 1.5h1M64 1.5h2M73 1.5h3M82 1.5h2M86 1.5h1M91 1.5h2M99 1.5h1M32 2.5h2M36 2.5h1M44 2.5h2M53 2.5h3M59 2.5h2M63 2.5h3M73 2.5h2M87 2.5h1M92 2.5h1M0 3.5h1M15 3.5h1M32 3.5h2M35 3.5h2M43 3.5h3M53 3.5h7M63 3.5h4M76 3.5h3M80 3.5h2M87 3.5h1M90 3.5h3M0 4.5h1M6 4.5h1M14 4.5h5M21 4.5h1M43 4.5h3M52 4.5h7M60 4.5h2M66 4.5h1M68 4.5h2M75 4.5h3M81 4.5h2M84 4.5h2M88 4.5h6M4 5.5h2M16 5.5h2M21 5.5h1M25 5.5h1M31 5.5h2M37 5.5h2M49 5.5h1M56 5.5h2M60 5.5h2M66 5.5h4M75 5.5h2M81 5.5h1M83 5.5h4M88 5.5h6M99 5.5h1M4 6.5h2M9 6.5h1M17 6.5h1M25 6.5h1M30 6.5h2M38 6.5h1M49 6.5h2M61 6.5h2M66 6.5h4M73 6.5h8M87 6.5h6M94 6.5h2M98 6.5h2M3 7.5h1M12 7.5h1M20 7.5h1M25 7.5h2M29 7.5h2M39 7.5h1M45 7.5h1M48 7.5h2M55 7.5h2M59 7.5h1M62 7.5h2M71 7.5h4M77 7.5h1M79 7.5h5M87 7.5h4M94 7.5h2M99 7.5h1M12 8.5h1M25 8.5h3M30 8.5h1M37 8.5h1M39 8.5h1M48 8.5h2M56 8.5h5M64 8.5h1M71 8.5h3M76 8.5h1M81 8.5h10M94 8.5h4M99 8.5h1M25 9.5h3M47 9.5h2M56 9.5h1M59 9.5h1M64 9.5h2M67 9.5h1M69 9.5h3M76 9.5h1M86 9.5h5M95 9.5h3M99 9.5h1M25 10.5h3M47 10.5h2M53 10.5h2M64 10.5h1M66 10.5h2M74 10.5h3M89 10.5h2M96 10.5h1M13 11.5h1M20 11.5h2M25 11.5h1M33 11.5h3M43 11.5h2M53 11.5h3M66 11.5h2M74 11.5h1M90 11.5h3M95 11.5h3M12 12.5h2M31 12.5h3M43 12.5h1M65 12.5h4M82 12.5h1M88 12.5h5M94 12.5h3M12 13.5h1M39 13.5h3M55 13.5h1M66 13.5h5M78 13.5h2M82 13.5h1M85 13.5h1M89 13.5h4M95 13.5h3M21 14.5h1M32 14.5h2M39 14.5h2M45 14.5h2M53 14.5h3M62 14.5h1M64 14.5h3M68 14.5h4M83 14.5h1M85 14.5h1M90 14.5h2M97 14.5h2M22 15.5h1M33 15.5h1M39 15.5h1M42 15.5h1M46 15.5h1M54 15.5h3M60 15.5h1M62 15.5h12M76 15.5h1M83 15.5h1M85 15.5h1M89 15.5h2M96 15.5h3M0 16.5h1M5 16.5h1M9 16.5h2M14 16.5h1M22 16.5h1M39 16.5h1M44 16.5h5M54 16.5h2M62 16.5h1M64 16.5h4M70 16.5h5M77 16.5h2M82 16.5h4M89 16.5h3M97 16.5h2M0 17.5h1M4 17.5h3M10 17.5h2M13 17.5h2M22 17.5h1M26 17.5h2M29 17.5h2M36 17.5h2M44 17.5h6M54 17.5h2M61 17.5h2M66 17.5h3M70 17.5h1M73 17.5h2M77 17.5h2M80 17.5h1M83 17.5h3M87 17.5h1M91 17.5h1M98 17.5h2M0 18.5h1M3 18.5h5M10 18.5h6M21 18.5h3M25 18.5h7M35 18.5h3M39 18.5h2M44 18.5h1M48 18.5h2M54 18.5h1M60 18.5h1M62 18.5h2M70 18.5h1M78 18.5h1M84 18.5h6M93 18.5h4M4 19.5h1M10 19.5h6M17 19.5h3M21 19.5h3M26 19.5h4M39 19.5h2M47 19.5h3M53 19.5h2M56 19.5h5M64 19.5h8M78 19.5h1M82 19.5h4M87 19.5h3M94 19.5h2M0 20.5h2M4 20.5h1M10 20.5h6M18 20.5h2M21 20.5h8M31 20.5h3M38 20.5h1M43 20.5h6M53 20.5h7M64 20.5h5M70 20.5h2M76 20.5h2M80 20.5h7M88 20.5h1M91 20.5h1M94 20.5h2M0 21.5h3M4 21.5h1M12 21.5h1M18 21.5h3M24 21.5h11M38 21.5h2M43 21.5h6M53 21.5h2M64 21.5h5M70 21.5h2M76 21.5h2M82 21.5h1M85 21.5h4M94 21.5h2M4 22.5h5M12 22.5h1M19 22.5h2M27 22.5h7M37 22.5h3M43 22.5h3M47 22.5h1M53 22.5h3M65 22.5h1M67 22.5h1M76 22.5h2M85 22.5h2M94 22.5h2M3 23.5h1M7 23.5h1M12 23.5h1M14 23.5h3M20 23.5h1M28 23.5h6M36 23.5h2M39 23.5h1M44 23.5h2M49 23.5h2M54 23.5h3M67 23.5h2M74 23.5h6M85 23.5h1M90 23.5h1M95 23.5h1M99 23.5h1M2 24.5h3M7 24.5h1M12 24.5h1M15 24.5h3M19 24.5h2M25 24.5h2M31 24.5h2M36 24.5h1M41 24.5h1M49 24.5h1M55 24.5h2M65 24.5h2M68 24.5h1M75 24.5h6M84 24.5h2M92 24.5h5M98 24.5h2M3 25.5h1M14 25.5h4M22 25.5h1M25 25.5h2M31 25.5h2M40 25.5h3M46 25.5h1M57 25.5h2M60 25.5h2M66 25.5h1M69 25.5h3M75 25.5h1M77 25.5h3M83 25.5h4M92 25.5h6M99 25.5h1M8 26.5h1M14 26.5h2M22 26.5h2M30 26.5h4M46 26.5h1M61 26.5h1M70 26.5h3M78 26.5h1M80 26.5h1M82 26.5h8M91 26.5h1M93 26.5h5M99 26.5h1M7 27.5h4M15 27.5h1M18 27.5h1M22 27.5h2M26 27.5h6M35 27.5h1M49 27.5h1M61 27.5h3M73 27.5h1M85 27.5h6M92 27.5h4M97 27.5h1M0 28.5h4M7 28.5h2M14 28.5h5M22 28.5h2M28 28.5h2M31 28.5h1M35 28.5h1M43 28.5h2M55 28.5h1M61 28.5h2M73 28.5h2M79 28.5h2M85 28.5h8M95 28.5h3M0 29.5h4M8 29.5h2M13 29.5h1M15 29.5h4M23 29.5h1M33 29.5h1M35 29.5h1M42 29.5h3M46 29.5h2M49 29.5h1M63 29.5h4M73 29.5h2M79 29.5h1M85 29.5h1M88 29.5h1M90 29.5h1M95 29.5h2M0 30.5h2M8 30.5h2M16 30.5h4M21 30.5h1M41 30.5h2M45 30.5h3M49 30.5h3M61 30.5h5M73 30.5h4M83 30.5h2M88 30.5h3M95 30.5h2M0 31.5h1M8 31.5h2M13 31.5h1M15 31.5h2M22 31.5h1M41 31.5h3M46 31.5h4M51 31.5h4M59 31.5h5M75 31.5h3M82 31.5h3M88 31.5h3M93 31.5h5M99 31.5h1M8 32.5h2M13 32.5h1M16 32.5h2M22 32.5h2M39 32.5h2M50 32.5h2M53 32.5h2M59 32.5h4M71 32.5h1M75 32.5h7M88 32.5h5M9 33.5h1M16 33.5h2M21 33.5h4M29 33.5h1M39 33.5h1M42 33.5h3M51 33.5h1M59 33.5h3M71 33.5h1M90 33.5h2M97 33.5h2M0 34.5h3M9 34.5h1M14 34.5h3M18 34.5h1M22 34.5h1M25 34.5h1M39 34.5h2M42 34.5h2M51 34.5h4M60 34.5h2M70 34.5h2M90 34.5h3M97 34.5h1M0 35.5h3M9 35.5h2M12 35.5h5M22 35.5h1M28 35.5h1M33 35.5h1M39 35.5h2M42 35.5h1M53 35.5h1M59 35.5h6M82 35.5h5M91 35.5h3M96 35.5h2M0 36.5h3M10 36.5h3M15 36.5h4M22 36.5h2M26 36.5h2M31 36.5h2M43 36.5h1M46 36.5h1M48 36.5h3M61 36.5h4M82 36.5h3M91 36.5h3M96 36.5h2M5 37.5h1M15 37.5h4M25 37.5h2M29 37.5h4M43 37.5h1M48 37.5h3M61 37.5h4M70 37.5h1M74 37.5h4M82 37.5h4M90 37.5h1M95 37.5h2M5 38.5h1M16 38.5h1M25 38.5h1M28 38.5h4M43 38.5h1M48 38.5h4M54 38.5h1M62 38.5h1M70 38.5h2M73 38.5h5M82 38.5h3M90 38.5h1M93 38.5h3M0 39.5h1M10 39.5h1M15 39.5h3M21 39.5h1M25 39.5h1M28 39.5h2M42 39.5h1M52 39.5h3M65 39.5h2M69 39.5h8M80 39.5h2M84 39.5h1M94 39.5h2M0 40.5h1M9 40.5h3M14 40.5h4M21 40.5h2M27 40.5h2M31 40.5h1M34 40.5h2M40 40.5h3M51 40.5h3M61 40.5h14M0 41.5h3M5 41.5h1M8 41.5h8M34 41.5h2M39 41.5h4M50 41.5h3M56 41.5h2M62 41.5h6M70 41.5h2M76 41.5h1M80 41.5h1M86 41.5h1M89 41.5h4M4 42.5h5M11 42.5h6M29 42.5h3M39 42.5h4M47 42.5h1M62 42.5h6M70 42.5h1M73 42.5h5M84 42.5h1M86 42.5h2M89 42.5h7M19 43.5h1M25 43.5h1M29 43.5h2M38 43.5h4M62 43.5h3M67 43.5h2M70 43.5h1M74 43.5h3M86 43.5h4M1 44.5h2M13 44.5h1M23 44.5h3M40 44.5h1M46 44.5h1M48 44.5h1M53 44.5h1M55 44.5h3M63 44.5h2M67 44.5h4M75 44.5h2M87 44.5h2M95 44.5h5M0 45.5h2M10 45.5h1M23 45.5h2M40 45.5h1M53 45.5h3M61 45.5h4M69 45.5h2M85 45.5h1M88 45.5h2M94 45.5h6M1 46.5h4M10 46.5h2M24 46.5h3M42 46.5h2M53 46.5h3M62 46.5h1M77 46.5h1M83 46.5h2M86 46.5h4M99 46.5h1M2 47.5h4M10 47.5h1M25 47.5h3M42 47.5h2M50 47.5h1M53 47.5h2M77 47.5h2M86 47.5h1M99 47.5h1M2 48.5h1M9 48.5h1M13 48.5h2M20 48.5h1M27 48.5h2M35 48.5h1M42 48.5h3M48 48.5h3M58 48.5h2M64 48.5h1M77 48.5h3M94 48.5h1M99 48.5h1M1 49.5h1M12 49.5h3M17 49.5h2M21 49.5h2M35 49.5h2M41 49.5h1M43 49.5h3M48 49.5h3M64 49.5h1M77 49.5h1M82 49.5h1M91 49.5h2M95 49.5h1M1 50.5h1M12 50.5h3M17 50.5h2M22 50.5h2M43 50.5h1M47 50.5h2M50 50.5h1M55 50.5h2M62 50.5h3M68 50.5h1M82 50.5h1M90 50.5h3M2 51.5h1M4 51.5h2M18 51.5h2M28 51.5h3M40 51.5h1M47 51.5h1M54 51.5h2M61 51.5h2M68 51.5h2M75 51.5h2M90 51.5h2M98 51.5h2M2 52.5h1M18 52.5h4M27 52.5h2M39 52.5h2M61 52.5h2M70 52.5h3M90 52.5h2M98 52.5h2M18 53.5h2M29 53.5h1M35 53.5h2M40 53.5h1M49 53.5h1M51 53.5h2M71 53.5h1M89 53.5h2M99 53.5h1M1 54.5h1M9 54.5h2M23 54.5h1M34 54.5h3M43 54.5h5M49 54.5h1M51 54.5h1M56 54.5h1M61 54.5h2M67 54.5h1M71 54.5h3M82 54.5h2M88 54.5h2M92 54.5h1M99 54.5h1M8 55.5h2M33 55.5h4M43 55.5h2M47 55.5h2M50 55.5h1M55 55.5h3M62 55.5h2M71 55.5h3M82 55.5h3M88 55.5h1M30 56.5h1M34 56.5h2M48 56.5h1M53 56.5h5M62 56.5h2M76 56.5h1M82 56.5h4M88 56.5h2M99 56.5h1M0 57.5h1M13 57.5h1M24 57.5h2M50 57.5h2M53 57.5h6M62 57.5h2M76 57.5h1M84 57.5h2M88 57.5h1M25 58.5h2M42 58.5h1M49 58.5h2M59 58.5h1M65 58.5h1M71 58.5h1M80 58.5h2M22 59.5h1M50 59.5h1M71 59.5h1M73 59.5h2M83 59.5h1M9 60.5h1M21 60.5h1M53 60.5h1M73 60.5h1M77 60.5h1M97 60.5h1M14 61.5h1M20 61.5h1M55 61.5h2M58 61.5h1M71 61.5h2M77 61.5h1M91 61.5h5M7 62.5h2M60 62.5h2M71 62.5h2M77 62.5h4M1 63.5h1M16 63.5h2M29 63.5h1M41 63.5h1M51 63.5h1M60 63.5h2M77 63.5h4M87 63.5h1M92 63.5h1M1 64.5h1M17 64.5h1M22 64.5h2M28 64.5h2M41 64.5h2M51 64.5h2M54 64.5h1M61 64.5h1M85 64.5h3M96 64.5h1M5 65.5h1M42 65.5h1M56 65.5h1M61 65.5h1M85 65.5h2M94 65.5h3M14 66.5h1M61 66.5h1M22 67.5h1M32 67.5h2M97 67.5h1M25 68.5h1M43 68.5h1M48 68.5h1M62 68.5h1M10 69.5h1M25 69.5h1M27 69.5h3M95 69.5h1M10 70.5h1M27 70.5h1M57 70.5h1M71 70.5h2M97 70.5h1M10 71.5h1M30 71.5h2M40 71.5h1M50 71.5h2M55 71.5h1M70 71.5h3M77 71.5h1M97 71.5h2M32 72.5h1M40 72.5h1M70 72.5h2M73 72.5h2M98 72.5h2M18 73.5h1M30 73.5h1M42 73.5h1M69 73.5h2M89 73.5h1M2 74.5h2M27 74.5h1M30 74.5h1M69 74.5h2M37 75.5h1M44 75.5h1M57 75.5h1M70 75.5h2M74 75.5h1M84 75.5h2M47 76.5h2M51 76.5h2M70 76.5h1M74 76.5h1M77 76.5h2M85 76.5h1M17 77.5h1M51 77.5h1M61 77.5h1M70 77.5h1M78 77.5h1M4 78.5h1M7 78.5h1M14 78.5h1M17 78.5h1M30 78.5h2M65 78.5h1M72 78.5h1M93 78.5h1M99 78.5h1M3 79.5h2M7 79.5h1M16 79.5h1M21 79.5h2M43 79.5h1M51 79.5h1M67 79.5h1M81 79.5h1M91 79.5h2M0 80.5h2M3 80.5h1M7 80.5h1M35 80.5h2M68 80.5h1M81 80.5h1M31 81.5h1M89 81.5h2M31 82.5h3M89 82.5h2M31 83.5h3M41 83.5h1M59 83.5h2M70 83.5h1M75 83.5h3M91 83.5h1" stroke="#000" stroke-width="1" fill="none"/></g>
<rect x="140.29999999999998" y="453.6" width="217.10000000000002" height="179.8" rx="2" fill="#fff" stroke="#6897cf" stroke-width="5.2"/>
<g transform="translate(143 456.3) scale(2.7)"><path d="M4 0.5h1M6 0.5h2M10 0.5h5M20 0.5h1M22 0.5h2M26 0.5h2M30 0.5h4M35 0.5h2M39 0.5h3M43 0.5h11M59 0.5h1M62 0.5h1M68 0.5h10M1 1.5h3M6 1.5h1M9 1.5h9M19 1.5h2M25 1.5h12M44 1.5h3M48 1.5h2M51 1.5h1M55 1.5h1M59 1.5h2M62 1.5h4M68 1.5h6M0 2.5h4M6 2.5h1M9 2.5h2M12 2.5h5M19 2.5h2M27 2.5h6M35 2.5h1M41 2.5h2M45 2.5h1M51 2.5h4M57 2.5h1M62 2.5h4M68 2.5h5M77 2.5h1M0 3.5h2M3 3.5h6M12 3.5h4M21 3.5h2M28 3.5h3M32 3.5h4M39 3.5h5M47 3.5h1M50 3.5h2M53 3.5h3M59 3.5h2M63 3.5h1M71 3.5h2M74 3.5h4M1 4.5h3M5 4.5h4M10 4.5h1M12 4.5h11M26 4.5h5M32 4.5h6M41 4.5h3M45 4.5h3M50 4.5h2M53 4.5h2M58 4.5h3M68 4.5h1M70 4.5h3M74 4.5h4M0 5.5h1M2 5.5h3M6 5.5h4M13 5.5h1M15 5.5h1M17 5.5h3M21 5.5h3M26 5.5h2M29 5.5h2M32 5.5h7M41 5.5h3M46 5.5h3M51 5.5h5M64 5.5h1M72 5.5h2M75 5.5h3M0 6.5h1M2 6.5h8M14 6.5h4M19 6.5h5M25 6.5h2M29 6.5h2M33 6.5h6M41 6.5h1M46 6.5h3M51 6.5h5M59 6.5h6M72 6.5h1M0 7.5h5M8 7.5h1M13 7.5h14M29 7.5h2M33 7.5h2M40 7.5h3M53 7.5h1M55 7.5h5M61 7.5h3M66 7.5h3M72 7.5h2M77 7.5h1M2 8.5h3M7 8.5h4M13 8.5h1M15 8.5h2M21 8.5h2M25 8.5h2M28 8.5h1M31 8.5h1M37 8.5h1M39 8.5h3M44 8.5h3M51 8.5h5M57 8.5h1M59 8.5h4M66 8.5h4M76 8.5h2M0 9.5h1M7 9.5h1M9 9.5h3M13 9.5h2M18 9.5h1M27 9.5h2M30 9.5h2M36 9.5h10M49 9.5h1M51 9.5h4M59 9.5h4M64 9.5h8M73 9.5h1M75 9.5h2M0 10.5h1M3 10.5h2M7 10.5h1M10 10.5h1M12 10.5h3M23 10.5h5M30 10.5h3M35 10.5h11M48 10.5h7M56 10.5h4M61 10.5h1M68 10.5h1M72 10.5h3M76 10.5h1M1 11.5h10M23 11.5h1M26 11.5h3M31 11.5h2M34 11.5h1M36 11.5h5M42 11.5h4M50 11.5h1M52 11.5h2M55 11.5h4M61 11.5h1M63 11.5h8M72 11.5h3M76 11.5h1M0 12.5h7M8 12.5h1M10 12.5h2M21 12.5h4M26 12.5h4M34 12.5h7M43 12.5h4M50 12.5h4M55 12.5h8M67 12.5h7M1 13.5h2M4 13.5h9M16 13.5h1M20 13.5h5M27 13.5h2M32 13.5h2M36 13.5h5M42 13.5h3M49 13.5h5M56 13.5h1M61 13.5h5M67 13.5h1M71 13.5h2M76 13.5h2M1 14.5h1M5 14.5h3M9 14.5h2M13 14.5h2M16 14.5h2M19 14.5h4M28 14.5h1M32 14.5h3M36 14.5h9M51 14.5h3M56 14.5h1M61 14.5h2M65 14.5h1M67 14.5h1M70 14.5h1M72 14.5h1M76 14.5h2M0 15.5h2M4 15.5h1M10 15.5h1M15 15.5h4M20 15.5h4M27 15.5h5M34 15.5h1M36 15.5h4M41 15.5h1M45 15.5h4M51 15.5h3M56 15.5h2M59 15.5h1M63 15.5h1M65 15.5h1M68 15.5h3M75 15.5h2M4 16.5h3M9 16.5h3M14 16.5h3M20 16.5h2M26 16.5h2M33 16.5h2M36 16.5h6M43 16.5h1M45 16.5h5M51 16.5h1M56 16.5h4M63 16.5h2M66 16.5h6M76 16.5h1M0 17.5h1M3 17.5h1M6 17.5h1M9 17.5h3M13 17.5h2M16 17.5h2M20 17.5h2M23 17.5h6M33 17.5h2M36 17.5h9M47 17.5h1M51 17.5h3M56 17.5h3M62 17.5h7M74 17.5h2M0 18.5h2M3 18.5h1M6 18.5h12M19 18.5h3M23 18.5h7M32 18.5h3M36 18.5h6M43 18.5h1M52 18.5h7M62 18.5h2M65 18.5h4M73 18.5h3M0 19.5h8M9 19.5h3M13 19.5h3M17 19.5h8M26 19.5h8M37 19.5h8M49 19.5h3M53 19.5h3M57 19.5h3M61 19.5h2M64 19.5h3M68 19.5h6M76 19.5h1M0 20.5h2M3 20.5h2M10 20.5h1M13 20.5h2M17 20.5h7M28 20.5h5M37 20.5h6M45 20.5h2M49 20.5h2M55 20.5h1M57 20.5h5M65 20.5h1M67 20.5h6M76 20.5h1M3 21.5h3M8 21.5h1M10 21.5h15M28 21.5h2M34 21.5h5M41 21.5h2M44 21.5h3M48 21.5h4M54 21.5h1M56 21.5h3M64 21.5h1M66 21.5h7M74 21.5h1M1 22.5h6M8 22.5h2M11 22.5h4M16 22.5h9M27 22.5h3M31 22.5h6M41 22.5h6M48 22.5h5M57 22.5h2M66 22.5h1M69 22.5h2M73 22.5h1M1 23.5h4M6 23.5h2M9 23.5h7M17 23.5h3M21 23.5h2M25 23.5h6M32 23.5h3M42 23.5h7M50 23.5h3M57 23.5h2M61 23.5h3M65 23.5h2M74 23.5h4M0 24.5h4M10 24.5h12M23 24.5h6M30 24.5h1M32 24.5h3M41 24.5h4M47 24.5h1M51 24.5h5M61 24.5h6M74 24.5h4M0 25.5h5M6 25.5h2M10 25.5h5M17 25.5h3M21 25.5h1M24 25.5h7M32 25.5h1M34 25.5h3M39 25.5h1M41 25.5h4M52 25.5h3M61 25.5h8M70 25.5h3M76 25.5h2M0 26.5h5M6 26.5h3M12 26.5h1M14 26.5h4M20 26.5h2M24 26.5h2M27 26.5h3M32 26.5h2M36 26.5h2M39 26.5h7M50 26.5h1M53 26.5h2M61 26.5h12M76 26.5h2M3 27.5h5M10 27.5h3M14 27.5h2M18 27.5h4M24 27.5h1M26 27.5h7M36 27.5h2M40 27.5h2M44 27.5h2M47 27.5h5M54 27.5h5M60 27.5h10M73 27.5h3M3 28.5h1M5 28.5h3M10 28.5h7M19 28.5h2M22 28.5h1M24 28.5h2M27 28.5h5M34 28.5h1M39 28.5h3M47 28.5h8M57 28.5h4M62 28.5h8M72 28.5h5M3 29.5h4M10 29.5h1M12 29.5h2M15 29.5h12M34 29.5h2M40 29.5h3M44 29.5h7M52 29.5h4M57 29.5h3M61 29.5h5M69 29.5h1M71 29.5h4M76 29.5h2M0 30.5h1M3 30.5h3M9 30.5h5M16 30.5h7M24 30.5h2M28 30.5h1M32 30.5h4M39 30.5h3M43 30.5h10M55 30.5h1M57 30.5h3M61 30.5h4M67 30.5h1M71 30.5h1M73 30.5h1M0 31.5h1M3 31.5h2M8 31.5h2M11 31.5h7M19 31.5h1M21 31.5h2M29 31.5h1M32 31.5h6M40 31.5h2M45 31.5h6M54 31.5h2M57 31.5h11M70 31.5h3M0 32.5h1M4 32.5h3M8 32.5h1M10 32.5h7M19 32.5h2M22 32.5h2M26 32.5h12M43 32.5h8M54 32.5h4M59 32.5h5M66 32.5h2M69 32.5h6M1 33.5h2M7 33.5h5M13 33.5h4M18 33.5h3M25 33.5h3M29 33.5h2M32 33.5h1M36 33.5h2M42 33.5h1M44 33.5h2M47 33.5h5M53 33.5h1M56 33.5h3M66 33.5h2M69 33.5h1M71 33.5h4M77 33.5h1M3 34.5h1M7 34.5h4M13 34.5h1M15 34.5h2M18 34.5h3M23 34.5h2M26 34.5h2M31 34.5h1M35 34.5h4M41 34.5h5M47 34.5h3M52 34.5h1M56 34.5h3M62 34.5h2M66 34.5h2M71 34.5h2M74 34.5h2M3 35.5h1M5 35.5h5M14 35.5h3M18 35.5h1M20 35.5h1M23 35.5h4M31 35.5h2M36 35.5h1M38 35.5h1M42 35.5h1M44 35.5h2M48 35.5h4M56 35.5h3M60 35.5h1M62 35.5h6M70 35.5h6M0 36.5h1M2 36.5h5M9 36.5h2M12 36.5h3M20 36.5h1M23 36.5h5M30 36.5h2M33 36.5h1M38 36.5h2M42 36.5h4M47 36.5h2M50 36.5h1M54 36.5h1M57 36.5h2M60 36.5h1M62 36.5h4M69 36.5h2M73 36.5h2M76 36.5h1M0 37.5h2M6 37.5h5M12 37.5h2M16 37.5h1M18 37.5h3M23 37.5h1M25 37.5h2M29 37.5h1M34 37.5h1M38 37.5h2M41 37.5h4M47 37.5h2M54 37.5h1M56 37.5h3M60 37.5h1M62 37.5h5M70 37.5h1M74 37.5h3M0 38.5h1M6 38.5h4M12 38.5h1M15 38.5h1M20 38.5h1M22 38.5h8M34 38.5h1M39 38.5h14M56 38.5h2M60 38.5h1M63 38.5h4M68 38.5h1M72 38.5h2M76 38.5h2M0 39.5h2M6 39.5h4M14 39.5h6M22 39.5h5M29 39.5h5M36 39.5h1M40 39.5h7M49 39.5h6M56 39.5h2M60 39.5h1M62 39.5h1M64 39.5h1M66 39.5h5M76 39.5h2M0 40.5h1M3 40.5h1M9 40.5h2M13 40.5h1M15 40.5h6M23 40.5h3M27 40.5h2M31 40.5h1M33 40.5h1M36 40.5h2M41 40.5h6M49 40.5h10M60 40.5h2M64 40.5h4M73 40.5h1M0 41.5h2M5 41.5h2M9 41.5h1M11 41.5h3M15 41.5h2M18 41.5h3M23 41.5h3M28 41.5h2M33 41.5h3M40 41.5h10M51 41.5h9M61 41.5h1M65 41.5h3M69 41.5h5M1 42.5h2M8 42.5h8M18 42.5h3M22 42.5h3M29 42.5h3M33 42.5h3M38 42.5h5M44 42.5h7M52 42.5h8M65 42.5h7M73 42.5h1M2 43.5h1M5 43.5h1M10 43.5h4M15 43.5h7M36 43.5h14M52 43.5h5M58 43.5h2M66 43.5h6M73 43.5h2M76 43.5h2M5 44.5h1M8 44.5h2M11 44.5h4M16 44.5h6M23 44.5h3M30 44.5h4M36 44.5h6M43 44.5h3M49 44.5h2M52 44.5h4M72 44.5h2M76 44.5h2M7 45.5h3M11 45.5h4M17 45.5h3M21 45.5h5M28 45.5h7M36 45.5h2M39 45.5h3M43 45.5h2M49 45.5h2M53 45.5h6M64 45.5h1M68 45.5h1M71 45.5h3M75 45.5h2M0 46.5h1M4 46.5h4M11 46.5h3M16 46.5h2M19 46.5h16M36 46.5h1M39 46.5h3M45 46.5h7M55 46.5h4M60 46.5h1M68 46.5h2M71 46.5h3M76 46.5h2M4 47.5h4M9 47.5h1M13 47.5h1M16 47.5h1M24 47.5h3M31 47.5h1M36 47.5h1M39 47.5h13M58 47.5h4M63 47.5h3M68 47.5h5M75 47.5h3M0 48.5h10M13 48.5h4M19 48.5h2M22 48.5h1M24 48.5h2M29 48.5h1M31 48.5h1M33 48.5h1M36 48.5h1M38 48.5h9M49 48.5h1M53 48.5h1M55 48.5h6M62 48.5h3M68 48.5h1M70 48.5h3M76 48.5h2M0 49.5h2M3 49.5h8M12 49.5h2M15 49.5h3M19 49.5h1M21 49.5h6M33 49.5h2M36 49.5h1M39 49.5h2M42 49.5h1M46 49.5h3M51 49.5h4M57 49.5h5M63 49.5h5M70 49.5h1M73 49.5h2M77 49.5h1M0 50.5h11M13 50.5h2M18 50.5h2M22 50.5h1M24 50.5h3M30 50.5h3M36 50.5h1M38 50.5h2M41 50.5h7M51 50.5h5M57 50.5h5M63 50.5h4M68 50.5h1M73 50.5h2M77 50.5h1M4 51.5h7M14 51.5h2M17 51.5h1M23 51.5h6M30 51.5h5M38 51.5h2M43 51.5h6M54 51.5h1M56 51.5h6M63 51.5h1M65 51.5h2M73 51.5h1M75 51.5h3M0 52.5h1M4 52.5h4M15 52.5h3M20 52.5h2M23 52.5h4M30 52.5h2M33 52.5h3M37 52.5h4M47 52.5h1M49 52.5h1M54 52.5h3M58 52.5h5M64 52.5h3M71 52.5h1M74 52.5h4M0 53.5h1M2 53.5h6M10 53.5h1M15 53.5h2M18 53.5h2M23 53.5h4M28 53.5h1M30 53.5h1M34 53.5h7M48 53.5h4M54 53.5h2M58 53.5h5M64 53.5h2M68 53.5h5M74 53.5h3M0 54.5h1M5 54.5h6M15 54.5h1M19 54.5h1M21 54.5h2M25 54.5h1M28 54.5h1M30 54.5h3M34 54.5h4M39 54.5h3M44 54.5h1M48 54.5h4M53 54.5h3M58 54.5h2M61 54.5h4M68 54.5h5M74 54.5h3M0 55.5h2M4 55.5h9M19 55.5h1M22 55.5h4M31 55.5h2M35 55.5h2M39 55.5h1M43 55.5h3M49 55.5h8M58 55.5h2M62 55.5h3M68 55.5h6M76 55.5h1M1 56.5h11M17 56.5h9M30 56.5h2M33 56.5h1M36 56.5h2M39 56.5h1M43 56.5h3M47 56.5h1M49 56.5h2M52 56.5h1M55 56.5h1M58 56.5h6M65 56.5h2M68 56.5h6M76 56.5h2M0 57.5h1M2 57.5h4M7 57.5h5M13 57.5h3M21 57.5h10M32 57.5h4M37 57.5h1M39 57.5h1M44 57.5h6M51 57.5h2M55 57.5h1M57 57.5h10M68 57.5h6M76 57.5h2M0 58.5h4M6 58.5h2M11 58.5h1M13 58.5h2M17 58.5h1M21 58.5h5M29 58.5h2M32 58.5h5M39 58.5h2M42 58.5h10M54 58.5h2M61 58.5h8M70 58.5h1M73 58.5h1M76 58.5h2M0 59.5h2M6 59.5h2M10 59.5h2M14 59.5h1M18 59.5h1M21 59.5h3M26 59.5h1M29 59.5h3M34 59.5h3M39 59.5h1M44 59.5h8M53 59.5h2M59 59.5h1M63 59.5h5M70 59.5h3M75 59.5h3M0 60.5h1M2 60.5h1M13 60.5h3M18 60.5h2M21 60.5h1M25 60.5h3M33 60.5h2M36 60.5h1M44 60.5h11M57 60.5h4M64 60.5h2M68 60.5h4M73 60.5h1M75 60.5h3M3 61.5h4M8 61.5h4M14 61.5h1M18 61.5h1M21 61.5h1M26 61.5h1M28 61.5h3M33 61.5h3M40 61.5h1M45 61.5h10M57 61.5h1M59 61.5h3M63 61.5h7M72 61.5h6M0 62.5h1M3 62.5h1M5 62.5h2M8 62.5h3M18 62.5h2M23 62.5h2M26 62.5h7M35 62.5h1M38 62.5h1M40 62.5h2M45 62.5h10M56 62.5h2M60 62.5h3M64 62.5h5M73 62.5h2M0 63.5h3M5 63.5h2M8 63.5h3M15 63.5h10M26 63.5h2M29 63.5h1M32 63.5h1M36 63.5h6M46 63.5h4M53 63.5h1M59 63.5h4M64 63.5h1M66 63.5h3M74 63.5h1" stroke="#000" stroke-width="1" fill="none"/></g>
<rect x="181.6" y="501.1" width="218.40000000000003" height="179.3" rx="2" fill="#fff" stroke="#6897cf" stroke-width="5.2"/>
<g transform="translate(184.3 504) scale(1.7)"><path d="M0 0.5h1M6 0.5h4M13 0.5h1M26 0.5h1M29 0.5h1M33 0.5h2M44 0.5h2M48 0.5h1M57 0.5h1M61 0.5h1M64 0.5h3M86 0.5h3M90 0.5h1M102 0.5h1M113 0.5h4M120 0.5h2M124 0.5h1M1 1.5h1M4 1.5h2M10 1.5h2M18 1.5h2M22 1.5h1M33 1.5h3M46 1.5h1M49 1.5h3M54 1.5h2M61 1.5h1M66 1.5h3M72 1.5h1M80 1.5h2M86 1.5h1M94 1.5h3M99 1.5h1M103 1.5h1M106 1.5h3M120 1.5h2M123 1.5h1M0 2.5h3M18 2.5h1M21 2.5h2M25 2.5h1M29 2.5h2M32 2.5h2M38 2.5h1M46 2.5h2M49 2.5h1M53 2.5h8M80 2.5h2M84 2.5h1M93 2.5h2M103 2.5h1M108 2.5h2M117 2.5h2M1 3.5h2M4 3.5h1M7 3.5h1M18 3.5h4M25 3.5h2M28 3.5h1M33 3.5h1M38 3.5h1M43 3.5h1M46 3.5h1M50 3.5h1M53 3.5h1M55 3.5h2M59 3.5h3M63 3.5h1M65 3.5h1M70 3.5h1M72 3.5h1M77 3.5h2M88 3.5h3M93 3.5h2M117 3.5h2M123 3.5h1M4 4.5h1M7 4.5h1M20 4.5h1M22 4.5h2M28 4.5h1M32 4.5h3M48 4.5h3M53 4.5h4M59 4.5h2M74 4.5h1M76 4.5h1M84 4.5h2M88 4.5h2M92 4.5h2M108 4.5h2M115 4.5h1M120 4.5h2M123 4.5h2M15 5.5h1M21 5.5h1M25 5.5h2M28 5.5h2M34 5.5h2M43 5.5h2M52 5.5h3M56 5.5h1M68 5.5h2M71 5.5h4M76 5.5h1M80 5.5h2M88 5.5h2M92 5.5h3M98 5.5h1M108 5.5h1M110 5.5h1M119 5.5h1M122 5.5h2M0 6.5h1M5 6.5h2M26 6.5h1M28 6.5h2M33 6.5h1M44 6.5h1M80 6.5h2M89 6.5h1M91 6.5h1M95 6.5h1M104 6.5h1M107 6.5h1M109 6.5h1M1 7.5h1M6 7.5h1M9 7.5h1M17 7.5h2M31 7.5h2M39 7.5h1M41 7.5h1M47 7.5h1M53 7.5h1M58 7.5h1M77 7.5h1M79 7.5h2M97 7.5h1M103 7.5h1M109 7.5h3M115 7.5h1M4 8.5h1M12 8.5h1M17 8.5h3M27 8.5h2M31 8.5h2M45 8.5h2M49 8.5h1M56 8.5h2M65 8.5h2M77 8.5h3M84 8.5h2M87 8.5h3M98 8.5h3M108 8.5h3M115 8.5h2M8 9.5h5M26 9.5h1M31 9.5h2M44 9.5h3M56 9.5h1M65 9.5h2M80 9.5h1M89 9.5h4M99 9.5h3M106 9.5h1M108 9.5h2M114 9.5h2M117 9.5h2M0 10.5h2M6 10.5h1M23 10.5h1M25 10.5h1M30 10.5h4M37 10.5h2M45 10.5h1M56 10.5h1M59 10.5h1M63 10.5h1M65 10.5h1M79 10.5h2M89 10.5h5M95 10.5h2M98 10.5h3M109 10.5h1M112 10.5h1M117 10.5h1M119 10.5h1M122 10.5h3M1 11.5h1M8 11.5h2M14 11.5h1M21 11.5h1M23 11.5h1M29 11.5h1M32 11.5h2M44 11.5h5M51 11.5h1M58 11.5h2M62 11.5h2M65 11.5h3M81 11.5h1M95 11.5h1M98 11.5h3M103 11.5h1M118 11.5h7M4 12.5h1M7 12.5h5M16 12.5h1M23 12.5h1M27 12.5h1M35 12.5h1M46 12.5h3M59 12.5h2M62 12.5h3M66 12.5h1M68 12.5h1M75 12.5h1M77 12.5h5M85 12.5h2M95 12.5h1M99 12.5h1M101 12.5h2M104 12.5h1M110 12.5h1M121 12.5h2M124 12.5h1M3 13.5h3M7 13.5h5M25 13.5h1M34 13.5h3M44 13.5h2M59 13.5h3M67 13.5h1M74 13.5h1M77 13.5h2M80 13.5h1M97 13.5h3M101 13.5h1M104 13.5h1M112 13.5h1M115 13.5h1M121 13.5h1M1 14.5h2M8 14.5h2M12 14.5h1M15 14.5h2M19 14.5h1M21 14.5h1M23 14.5h1M34 14.5h1M36 14.5h2M39 14.5h1M44 14.5h2M51 14.5h1M54 14.5h2M59 14.5h3M74 14.5h4M80 14.5h1M90 14.5h1M96 14.5h1M98 14.5h1M101 14.5h2M111 14.5h5M121 14.5h2M3 15.5h1M6 15.5h1M8 15.5h1M20 15.5h3M44 15.5h1M48 15.5h2M59 15.5h1M63 15.5h4M76 15.5h1M79 15.5h1M87 15.5h1M94 15.5h1M101 15.5h2M108 15.5h1M113 15.5h3M117 15.5h1M121 15.5h3M0 16.5h1M8 16.5h2M16 16.5h1M32 16.5h2M43 16.5h1M48 16.5h2M51 16.5h1M54 16.5h3M63 16.5h1M66 16.5h6M76 16.5h1M93 16.5h1M95 16.5h2M99 16.5h1M101 16.5h2M105 16.5h5M115 16.5h1M117 16.5h1M124 16.5h1M7 17.5h2M13 17.5h1M15 17.5h2M19 17.5h1M23 17.5h1M27 17.5h2M33 17.5h1M40 17.5h1M49 17.5h1M54 17.5h2M63 17.5h1M65 17.5h3M71 17.5h1M82 17.5h1M84 17.5h1M97 17.5h1M99 17.5h2M102 17.5h1M104 17.5h3M111 17.5h2M115 17.5h1M118 17.5h1M121 17.5h1M2 18.5h1M7 18.5h1M10 18.5h4M16 18.5h3M27 18.5h1M39 18.5h1M47 18.5h1M49 18.5h1M56 18.5h1M76 18.5h2M82 18.5h3M94 18.5h1M97 18.5h1M100 18.5h1M103 18.5h2M120 18.5h2M0 19.5h5M7 19.5h2M12 19.5h1M16 19.5h3M26 19.5h2M37 19.5h1M39 19.5h1M46 19.5h1M49 19.5h2M56 19.5h1M71 19.5h1M73 19.5h2M80 19.5h2M84 19.5h2M92 19.5h5M102 19.5h1M105 19.5h1M115 19.5h1M118 19.5h3M124 19.5h1M3 20.5h1M5 20.5h1M7 20.5h1M13 20.5h1M17 20.5h1M20 20.5h1M26 20.5h2M30 20.5h3M38 20.5h2M45 20.5h2M48 20.5h2M52 20.5h1M56 20.5h2M59 20.5h1M65 20.5h1M80 20.5h1M84 20.5h1M88 20.5h1M90 20.5h5M108 20.5h3M118 20.5h2M5 21.5h2M11 21.5h1M17 21.5h1M25 21.5h2M33 21.5h1M36 21.5h1M38 21.5h3M44 21.5h1M48 21.5h1M52 21.5h1M55 21.5h3M61 21.5h1M64 21.5h2M67 21.5h3M85 21.5h2M90 21.5h1M97 21.5h2M109 21.5h1M119 21.5h4M124 21.5h1M4 22.5h3M14 22.5h1M19 22.5h1M23 22.5h5M37 22.5h1M43 22.5h1M55 22.5h2M61 22.5h2M65 22.5h2M76 22.5h3M84 22.5h2M98 22.5h5M108 22.5h1M111 22.5h1M120 22.5h1M0 23.5h1M2 23.5h1M10 23.5h1M17 23.5h1M23 23.5h2M26 23.5h1M32 23.5h1M34 23.5h2M42 23.5h2M46 23.5h1M49 23.5h1M54 23.5h3M61 23.5h3M65 23.5h2M73 23.5h1M76 23.5h5M84 23.5h1M91 23.5h1M98 23.5h2M105 23.5h2M109 23.5h4M117 23.5h1M121 23.5h2M0 24.5h1M2 24.5h1M6 24.5h3M16 24.5h4M32 24.5h2M38 24.5h1M45 24.5h3M54 24.5h4M60 24.5h5M66 24.5h1M72 24.5h7M80 24.5h3M84 24.5h1M88 24.5h1M95 24.5h1M101 24.5h1M106 24.5h1M109 24.5h3M119 24.5h1M2 25.5h1M6 25.5h4M14 25.5h1M16 25.5h1M19 25.5h2M24 25.5h1M26 25.5h1M30 25.5h1M32 25.5h1M52 25.5h1M59 25.5h1M63 25.5h1M77 25.5h3M82 25.5h1M87 25.5h2M92 25.5h1M94 25.5h1M97 25.5h1M101 25.5h6M119 25.5h2M5 26.5h1M8 26.5h2M16 26.5h1M19 26.5h2M34 26.5h1M45 26.5h1M49 26.5h1M63 26.5h1M70 26.5h2M87 26.5h2M92 26.5h1M97 26.5h1M103 26.5h2M106 26.5h1M109 26.5h2M115 26.5h2M118 26.5h2M121 26.5h2M124 26.5h1M5 27.5h1M19 27.5h1M22 27.5h2M29 27.5h4M37 27.5h1M39 27.5h1M41 27.5h3M46 27.5h1M53 27.5h1M55 27.5h1M68 27.5h1M70 27.5h1M76 27.5h2M84 27.5h4M90 27.5h1M92 27.5h1M95 27.5h1M107 27.5h1M110 27.5h1M116 27.5h4M6 28.5h1M8 28.5h2M13 28.5h1M19 28.5h1M22 28.5h5M36 28.5h4M41 28.5h2M46 28.5h1M49 28.5h1M52 28.5h2M60 28.5h3M68 28.5h2M71 28.5h1M83 28.5h5M90 28.5h2M94 28.5h2M105 28.5h2M110 28.5h1M113 28.5h1M117 28.5h1M0 29.5h2M10 29.5h2M15 29.5h1M32 29.5h1M36 29.5h1M49 29.5h1M52 29.5h2M56 29.5h2M61 29.5h1M70 29.5h3M84 29.5h1M86 29.5h3M96 29.5h1M102 29.5h4M109 29.5h2M113 29.5h1M115 29.5h1M118 29.5h2M7 30.5h1M10 30.5h1M15 30.5h1M20 30.5h1M28 30.5h1M32 30.5h1M35 30.5h3M46 30.5h5M53 30.5h5M77 30.5h2M85 30.5h3M93 30.5h2M96 30.5h1M100 30.5h5M109 30.5h1M119 30.5h2M2 31.5h2M5 31.5h2M15 31.5h1M24 31.5h2M32 31.5h1M36 31.5h2M46 31.5h5M54 31.5h5M65 31.5h4M74 31.5h1M76 31.5h1M78 31.5h1M85 31.5h2M90 31.5h5M96 31.5h1M100 31.5h1M104 31.5h2M0 32.5h3M4 32.5h1M15 32.5h1M17 32.5h1M30 32.5h1M33 32.5h1M35 32.5h1M38 32.5h2M49 32.5h1M52 32.5h1M56 32.5h1M58 32.5h1M62 32.5h2M65 32.5h1M68 32.5h2M71 32.5h1M73 32.5h8M82 32.5h3M90 32.5h1M96 32.5h1M98 32.5h1M104 32.5h1M113 32.5h1M124 32.5h1M1 33.5h2M6 33.5h1M24 33.5h4M34 33.5h1M49 33.5h1M59 33.5h1M61 33.5h1M70 33.5h2M75 33.5h8M84 33.5h2M89 33.5h1M98 33.5h1M100 33.5h5M107 33.5h1M111 33.5h1M115 33.5h1M2 34.5h1M4 34.5h1M6 34.5h1M17 34.5h1M20 34.5h1M24 34.5h4M34 34.5h1M42 34.5h1M49 34.5h1M55 34.5h1M65 34.5h1M74 34.5h3M82 34.5h1M84 34.5h1M88 34.5h3M100 34.5h2M103 34.5h1M110 34.5h3M114 34.5h2M124 34.5h1M4 35.5h1M19 35.5h5M37 35.5h1M44 35.5h1M57 35.5h4M63 35.5h1M68 35.5h3M79 35.5h1M84 35.5h1M88 35.5h3M100 35.5h2M105 35.5h2M124 35.5h1M1 36.5h2M8 36.5h2M11 36.5h2M23 36.5h2M30 36.5h1M33 36.5h3M37 36.5h2M40 36.5h2M47 36.5h1M54 36.5h1M59 36.5h1M63 36.5h1M65 36.5h1M79 36.5h1M82 36.5h2M87 36.5h1M89 36.5h1M93 36.5h1M104 36.5h1M108 36.5h1M0 37.5h1M2 37.5h1M4 37.5h1M10 37.5h2M15 37.5h1M18 37.5h1M24 37.5h3M35 37.5h4M40 37.5h1M48 37.5h2M51 37.5h4M57 37.5h4M65 37.5h2M68 37.5h1M79 37.5h3M87 37.5h3M92 37.5h1M104 37.5h2M116 37.5h1M0 38.5h1M2 38.5h1M11 38.5h1M24 38.5h4M29 38.5h3M36 38.5h2M43 38.5h1M48 38.5h3M52 38.5h3M56 38.5h5M70 38.5h3M77 38.5h1M80 38.5h2M88 38.5h1M94 38.5h1M103 38.5h2M109 38.5h1M114 38.5h1M116 38.5h1M5 39.5h1M11 39.5h2M18 39.5h1M20 39.5h3M24 39.5h2M27 39.5h1M37 39.5h1M45 39.5h1M50 39.5h1M56 39.5h2M60 39.5h1M67 39.5h2M70 39.5h3M78 39.5h1M88 39.5h2M94 39.5h1M96 39.5h2M103 39.5h1M106 39.5h2M111 39.5h1M4 40.5h1M10 40.5h1M14 40.5h1M17 40.5h2M21 40.5h2M24 40.5h2M27 40.5h1M45 40.5h2M55 40.5h4M60 40.5h1M67 40.5h1M83 40.5h3M89 40.5h1M102 40.5h1M105 40.5h2M2 41.5h1M4 41.5h1M7 41.5h2M10 41.5h1M16 41.5h3M22 41.5h4M33 41.5h4M39 41.5h1M45 41.5h1M51 41.5h1M55 41.5h3M77 41.5h3M85 41.5h1M89 41.5h1M97 41.5h1M101 41.5h3M105 41.5h2M113 41.5h1M118 41.5h1M3 42.5h2M11 42.5h2M23 42.5h3M33 42.5h5M47 42.5h1M51 42.5h1M62 42.5h1M65 42.5h2M69 42.5h1M77 42.5h1M79 42.5h1M90 42.5h1M97 42.5h1M102 42.5h3M3 43.5h2M21 43.5h3M25 43.5h1M33 43.5h1M35 43.5h2M43 43.5h1M51 43.5h4M60 43.5h2M64 43.5h2M67 43.5h2M74 43.5h4M83 43.5h1M90 43.5h1M92 43.5h1M96 43.5h3M107 43.5h1M3 44.5h1M13 44.5h1M19 44.5h2M25 44.5h4M39 44.5h1M43 44.5h1M46 44.5h1M48 44.5h1M56 44.5h1M63 44.5h1M65 44.5h1M71 44.5h1M77 44.5h1M82 44.5h2M96 44.5h1M102 44.5h2M114 44.5h1M118 44.5h2M6 45.5h1M10 45.5h2M17 45.5h1M23 45.5h1M33 45.5h1M45 45.5h1M47 45.5h1M56 45.5h1M58 45.5h2M68 45.5h1M72 45.5h5M113 45.5h2M118 45.5h2M123 45.5h2M10 46.5h2M15 46.5h3M24 46.5h4M29 46.5h1M33 46.5h1M35 46.5h1M45 46.5h1M58 46.5h1M69 46.5h1M78 46.5h2M84 46.5h1M86 46.5h1M98 46.5h2M112 46.5h2M124 46.5h1M5 47.5h2M21 47.5h1M25 47.5h3M31 47.5h1M47 47.5h1M58 47.5h1M69 47.5h2M73 47.5h2M78 47.5h2M91 47.5h3M98 47.5h1M100 47.5h1M112 47.5h2M116 47.5h2M123 47.5h1M1 48.5h3M5 48.5h1M19 48.5h1M23 48.5h1M27 48.5h1M30 48.5h1M40 48.5h1M45 48.5h1M52 48.5h1M74 48.5h2M77 48.5h2M83 48.5h1M92 48.5h1M108 48.5h1M110 48.5h4M116 48.5h1M0 49.5h3M8 49.5h2M18 49.5h1M20 49.5h1M33 49.5h1M37 49.5h4M43 49.5h1M45 49.5h2M51 49.5h2M61 49.5h1M65 49.5h2M77 49.5h2M82 49.5h1M86 49.5h1M97 49.5h1M103 49.5h1M106 49.5h1M118 49.5h2M123 49.5h2M0 50.5h1M15 50.5h3M22 50.5h1M31 50.5h1M35 50.5h1M37 50.5h1M44 50.5h1M46 50.5h1M48 50.5h2M51 50.5h1M56 50.5h1M59 50.5h1M66 50.5h2M76 50.5h3M91 50.5h1M94 50.5h2M100 50.5h1M105 50.5h1M109 50.5h1M111 50.5h2M0 51.5h1M15 51.5h1M17 51.5h2M37 51.5h1M40 51.5h2M59 51.5h2M62 51.5h1M67 51.5h1M78 51.5h2M83 51.5h3M90 51.5h2M93 51.5h4M101 51.5h2M112 51.5h1M23 52.5h2M26 52.5h3M32 52.5h1M38 52.5h2M41 52.5h2M45 52.5h3M62 52.5h5M69 52.5h2M74 52.5h1M81 52.5h1M91 52.5h1M93 52.5h1M108 52.5h1M113 52.5h2M119 52.5h1M122 52.5h2M0 53.5h2M13 53.5h1M19 53.5h3M23 53.5h1M26 53.5h1M34 53.5h3M38 53.5h1M45 53.5h1M49 53.5h1M52 53.5h1M57 53.5h1M59 53.5h1M64 53.5h3M68 53.5h2M73 53.5h5M82 53.5h1M90 53.5h2M98 53.5h2M106 53.5h3M110 53.5h1M113 53.5h4M119 53.5h1M122 53.5h1M4 54.5h1M13 54.5h1M23 54.5h1M35 54.5h3M46 54.5h2M65 54.5h1M68 54.5h2M72 54.5h1M75 54.5h1M90 54.5h1M92 54.5h1M102 54.5h1M106 54.5h2M115 54.5h2M119 54.5h1M122 54.5h1M1 55.5h2M9 55.5h1M26 55.5h2M30 55.5h1M36 55.5h1M39 55.5h1M48 55.5h2M57 55.5h2M64 55.5h2M80 55.5h1M84 55.5h3M90 55.5h1M93 55.5h2M97 55.5h2M108 55.5h1M113 55.5h1M119 55.5h1M122 55.5h1M1 56.5h1M3 56.5h1M11 56.5h4M23 56.5h3M36 56.5h1M39 56.5h2M51 56.5h1M64 56.5h2M85 56.5h2M91 56.5h1M98 56.5h2M101 56.5h1M103 56.5h1M113 56.5h1M119 56.5h5M3 57.5h2M17 57.5h2M33 57.5h1M41 57.5h4M48 57.5h1M51 57.5h2M60 57.5h1M72 57.5h1M76 57.5h2M83 57.5h1M97 57.5h4M102 57.5h1M104 57.5h2M116 57.5h1M122 57.5h1M124 57.5h1M3 58.5h2M6 58.5h2M19 58.5h1M24 58.5h1M40 58.5h3M52 58.5h1M58 58.5h1M69 58.5h2M80 58.5h2M86 58.5h1M89 58.5h3M93 58.5h1M96 58.5h3M106 58.5h1M114 58.5h1M116 58.5h1M120 58.5h1M124 58.5h1M6 59.5h1M14 59.5h2M23 59.5h2M30 59.5h1M39 59.5h3M44 59.5h1M46 59.5h2M50 59.5h1M70 59.5h2M80 59.5h4M86 59.5h2M89 59.5h1M91 59.5h1M93 59.5h1M96 59.5h3M112 59.5h1M115 59.5h1M117 59.5h1M120 59.5h1M15 60.5h4M24 60.5h1M29 60.5h2M32 60.5h1M37 60.5h2M40 60.5h2M48 60.5h2M53 60.5h3M59 60.5h1M63 60.5h2M66 60.5h1M69 60.5h1M78 60.5h1M81 60.5h3M86 60.5h1M91 60.5h1M97 60.5h3M105 60.5h1M115 60.5h1M0 61.5h1M3 61.5h1M5 61.5h1M16 61.5h3M29 61.5h2M34 61.5h1M38 61.5h2M41 61.5h3M48 61.5h2M59 61.5h1M63 61.5h4M78 61.5h1M81 61.5h1M83 61.5h1M97 61.5h3M103 61.5h3M115 61.5h1M121 61.5h2M124 61.5h1M12 62.5h1M18 62.5h1M20 62.5h1M31 62.5h2M41 62.5h3M49 62.5h1M51 62.5h1M62 62.5h1M65 62.5h1M69 62.5h3M76 62.5h3M87 62.5h1M97 62.5h2M104 62.5h2M114 62.5h1M122 62.5h2M4 63.5h1M11 63.5h2M43 63.5h1M59 63.5h2M62 63.5h1M65 63.5h1M70 63.5h1M81 63.5h1M94 63.5h1M98 63.5h1M101 63.5h1M103 63.5h1M107 63.5h7M116 63.5h1M123 63.5h1M13 64.5h1M31 64.5h2M34 64.5h3M39 64.5h1M52 64.5h1M64 64.5h1M70 64.5h1M89 64.5h1M103 64.5h1M107 64.5h3M111 64.5h3M115 64.5h4M0 65.5h1M10 65.5h1M16 65.5h1M19 65.5h1M24 65.5h4M31 65.5h2M35 65.5h1M39 65.5h2M45 65.5h1M51 65.5h2M55 65.5h1M62 65.5h1M64 65.5h1M75 65.5h1M84 65.5h1M89 65.5h1M95 65.5h1M108 65.5h2M112 65.5h2M117 65.5h1M1 66.5h1M4 66.5h4M12 66.5h1M17 66.5h2M24 66.5h3M40 66.5h1M47 66.5h2M53 66.5h1M59 66.5h1M67 66.5h1M74 66.5h1M81 66.5h3M91 66.5h1M98 66.5h1M105 66.5h1M107 66.5h2M121 66.5h3M1 67.5h1M3 67.5h1M5 67.5h1M11 67.5h2M16 67.5h2M24 67.5h2M28 67.5h2M40 67.5h2M47 67.5h2M56 67.5h1M63 67.5h1M83 67.5h1M88 67.5h2M93 67.5h1M97 67.5h1M108 67.5h3M114 67.5h1M118 67.5h1M1 68.5h2M6 68.5h1M9 68.5h1M11 68.5h3M24 68.5h2M28 68.5h3M33 68.5h1M41 68.5h2M48 68.5h1M57 68.5h2M68 68.5h2M74 68.5h1M88 68.5h2M98 68.5h1M106 68.5h2M109 68.5h2M114 68.5h2M117 68.5h2M122 68.5h2M0 69.5h2M5 69.5h2M8 69.5h1M12 69.5h2M18 69.5h1M20 69.5h1M25 69.5h1M28 69.5h2M33 69.5h3M41 69.5h2M52 69.5h2M68 69.5h1M74 69.5h1M82 69.5h2M87 69.5h1M91 69.5h2M99 69.5h1M103 69.5h2M106 69.5h2M109 69.5h1M0 70.5h1M2 70.5h1M18 70.5h2M28 70.5h2M49 70.5h1M53 70.5h1M55 70.5h2M60 70.5h1M84 70.5h1M87 70.5h1M90 70.5h1M92 70.5h1M94 70.5h1M99 70.5h1M101 70.5h1M103 70.5h5M117 70.5h1M120 70.5h2M0 71.5h1M2 71.5h1M17 71.5h4M38 71.5h1M40 71.5h1M46 71.5h1M58 71.5h3M68 71.5h1M76 71.5h2M87 71.5h1M90 71.5h1M93 71.5h1M98 71.5h1M101 71.5h1M103 71.5h3M107 71.5h1M120 71.5h1M1 72.5h1M11 72.5h1M18 72.5h3M22 72.5h1M24 72.5h1M29 72.5h1M36 72.5h1M38 72.5h3M45 72.5h2M49 72.5h2M53 72.5h1M59 72.5h2M68 72.5h2M71 72.5h1M76 72.5h1M84 72.5h2M90 72.5h1M96 72.5h3M100 72.5h1M104 72.5h2M107 72.5h1M111 72.5h2M114 72.5h1M120 72.5h1M1 73.5h1M13 73.5h1M17 73.5h2M40 73.5h1M42 73.5h1M47 73.5h1M49 73.5h3M56 73.5h1M61 73.5h2M64 73.5h1M68 73.5h1M71 73.5h1M76 73.5h1M91 73.5h3M97 73.5h2M100 73.5h1M104 73.5h1M110 73.5h1M114 73.5h2M119 73.5h2M123 73.5h1M28 74.5h1M32 74.5h1M34 74.5h1M40 74.5h1M50 74.5h2M53 74.5h1M62 74.5h1M73 74.5h2M76 74.5h2M82 74.5h1M91 74.5h1M100 74.5h1M108 74.5h3M119 74.5h1M123 74.5h1M9 75.5h2M32 75.5h1M34 75.5h1M49 75.5h1M67 75.5h1M69 75.5h2M73 75.5h2M83 75.5h1M101 75.5h1M110 75.5h1M116 75.5h1M123 75.5h1M0 76.5h3M10 76.5h2M15 76.5h1M18 76.5h2M22 76.5h2M34 76.5h1M52 76.5h1M54 76.5h1M66 76.5h6M83 76.5h2M100 76.5h3M107 76.5h1M110 76.5h1M116 76.5h1M118 76.5h5M13 77.5h1M19 77.5h1M23 77.5h1M27 77.5h1M30 77.5h1M34 77.5h1M36 77.5h2M45 77.5h1M52 77.5h1M59 77.5h1M61 77.5h3M69 77.5h2M100 77.5h2M103 77.5h1M118 77.5h3M8 78.5h1M13 78.5h2M17 78.5h4M22 78.5h1M35 78.5h2M49 78.5h1M51 78.5h2M61 78.5h2M65 78.5h1M72 78.5h1M92 78.5h2M96 78.5h2M101 78.5h1M105 78.5h1M108 78.5h2M118 78.5h1M122 78.5h1M124 78.5h1M0 79.5h1M3 79.5h1M8 79.5h1M16 79.5h2M19 79.5h1M22 79.5h1M28 79.5h2M34 79.5h2M59 79.5h2M69 79.5h1M71 79.5h5M79 79.5h2M83 79.5h1M86 79.5h1M92 79.5h2M96 79.5h1M104 79.5h2M109 79.5h1M124 79.5h1M0 80.5h2M9 80.5h1M16 80.5h1M26 80.5h3M34 80.5h2M48 80.5h2M57 80.5h1M69 80.5h1M75 80.5h1M78 80.5h2M85 80.5h2M92 80.5h1M96 80.5h1M109 80.5h2M120 80.5h2M0 81.5h1M4 81.5h1M13 81.5h1M16 81.5h1M20 81.5h1M25 81.5h5M35 81.5h1M41 81.5h3M48 81.5h2M60 81.5h1M77 81.5h1M85 81.5h4M91 81.5h3M101 81.5h1M105 81.5h1M121 81.5h4M2 82.5h3M7 82.5h1M10 82.5h1M13 82.5h1M16 82.5h1M23 82.5h1M25 82.5h1M31 82.5h1M35 82.5h1M37 82.5h1M41 82.5h1M45 82.5h2M49 82.5h2M62 82.5h1M66 82.5h1M74 82.5h2M80 82.5h1M96 82.5h1M115 82.5h2M123 82.5h2M1 83.5h1M10 83.5h2M15 83.5h2M23 83.5h1M37 83.5h1M40 83.5h1M43 83.5h1M50 83.5h1M58 83.5h1M62 83.5h1M77 83.5h2M90 83.5h2M94 83.5h1M98 83.5h5M110 83.5h2M117 83.5h1M124 83.5h1M2 84.5h2M10 84.5h2M14 84.5h2M23 84.5h2M33 84.5h2M40 84.5h1M43 84.5h1M49 84.5h3M59 84.5h1M75 84.5h2M78 84.5h1M85 84.5h1M88 84.5h1M91 84.5h6M98 84.5h3M102 84.5h1M106 84.5h1M110 84.5h1M113 84.5h2M116 84.5h1M1 85.5h2M14 85.5h1M22 85.5h4M31 85.5h2M42 85.5h1M49 85.5h2M52 85.5h1M63 85.5h1M69 85.5h4M77 85.5h2M83 85.5h1M85 85.5h2M88 85.5h2M93 85.5h1M97 85.5h4M105 85.5h2M114 85.5h1M116 85.5h1M118 85.5h1M123 85.5h2M2 86.5h3M6 86.5h1M16 86.5h1M23 86.5h2M27 86.5h2M35 86.5h2M42 86.5h1M49 86.5h1M52 86.5h1M55 86.5h1M63 86.5h1M69 86.5h5M77 86.5h1M82 86.5h2M91 86.5h1M93 86.5h2M96 86.5h2M99 86.5h2M105 86.5h2M113 86.5h4M118 86.5h2M2 87.5h1M6 87.5h1M8 87.5h1M23 87.5h1M26 87.5h1M28 87.5h1M36 87.5h2M49 87.5h1M53 87.5h2M68 87.5h2M72 87.5h2M77 87.5h1M87 87.5h1M91 87.5h1M93 87.5h1M96 87.5h3M100 87.5h2M105 87.5h1M116 87.5h1M118 87.5h1M120 87.5h4M0 88.5h4M6 88.5h1M8 88.5h1M10 88.5h1M13 88.5h3M20 88.5h1M25 88.5h1M27 88.5h3M35 88.5h1M37 88.5h2M49 88.5h1M57 88.5h1M62 88.5h1M68 88.5h2M84 88.5h4M90 88.5h1M96 88.5h2M100 88.5h1M103 88.5h1M111 88.5h1M119 88.5h1M123 88.5h1M3 89.5h1M6 89.5h1M14 89.5h1M20 89.5h1M23 89.5h2M29 89.5h1M31 89.5h2M39 89.5h1M44 89.5h3M49 89.5h1M61 89.5h1M70 89.5h1M73 89.5h2M84 89.5h2M89 89.5h3M98 89.5h1M111 89.5h2M115 89.5h1M4 90.5h2M39 90.5h1M43 90.5h2M48 90.5h2M60 90.5h1M69 90.5h5M76 90.5h3M81 90.5h3M85 90.5h1M87 90.5h1M89 90.5h1M96 90.5h1M100 90.5h1M111 90.5h2M115 90.5h3M5 91.5h3M15 91.5h2M20 91.5h1M36 91.5h1M43 91.5h2M76 91.5h1M81 91.5h2M89 91.5h1M91 91.5h1M109 91.5h1M121 91.5h1M124 91.5h1M2 92.5h1M5 92.5h2M15 92.5h1M20 92.5h4M27 92.5h1M31 92.5h1M36 92.5h1M51 92.5h1M67 92.5h1M81 92.5h1M89 92.5h1M91 92.5h1M95 92.5h1M109 92.5h2M116 92.5h1M124 92.5h1M1 93.5h2M8 93.5h1M14 93.5h1M24 93.5h2M34 93.5h3M42 93.5h1M44 93.5h2M47 93.5h2M50 93.5h2M59 93.5h1M67 93.5h2M74 93.5h2M77 93.5h2M81 93.5h1M90 93.5h3M94 93.5h2M107 93.5h2M111 93.5h1M115 93.5h1M119 93.5h2M124 93.5h1M1 94.5h1M6 94.5h1M24 94.5h2M36 94.5h1M42 94.5h1M48 94.5h3M61 94.5h2M67 94.5h1M72 94.5h1M75 94.5h1M89 94.5h1M92 94.5h1M94 94.5h2M100 94.5h1M103 94.5h1M107 94.5h2M110 94.5h3M119 94.5h2M8 95.5h1M12 95.5h1M18 95.5h1M21 95.5h1M34 95.5h3M46 95.5h1M51 95.5h1M60 95.5h1M62 95.5h3M75 95.5h2M88 95.5h1M107 95.5h2M111 95.5h1M119 95.5h3M7 96.5h2M12 96.5h1M16 96.5h1M19 96.5h1M33 96.5h2M40 96.5h1M43 96.5h5M51 96.5h1M55 96.5h2M60 96.5h2M67 96.5h1M75 96.5h1M78 96.5h2M91 96.5h5M99 96.5h4M104 96.5h1M118 96.5h2M3 97.5h2M7 97.5h1M14 97.5h1M17 97.5h3M22 97.5h2M34 97.5h1M36 97.5h2M41 97.5h2M45 97.5h3M49 97.5h3M56 97.5h1M58 97.5h4M75 97.5h1M88 97.5h2M91 97.5h1M95 97.5h1M102 97.5h1M104 97.5h2M109 97.5h3M3 98.5h1M6 98.5h2M17 98.5h2M23 98.5h1M29 98.5h2M34 98.5h1M36 98.5h2M43 98.5h1M49 98.5h1M53 98.5h1M55 98.5h1M59 98.5h1M61 98.5h2M75 98.5h1M77 98.5h1M79 98.5h1M82 98.5h1M84 98.5h1M87 98.5h3M109 98.5h3M119 98.5h2M122 98.5h2M2 99.5h1M15 99.5h5M23 99.5h1M29 99.5h2M34 99.5h1M36 99.5h1M39 99.5h1M46 99.5h1M49 99.5h1M65 99.5h1M69 99.5h2M72 99.5h1M79 99.5h1M87 99.5h5M94 99.5h1M99 99.5h1M101 99.5h1M104 99.5h1M108 99.5h2M111 99.5h2M117 99.5h2M1 100.5h2M14 100.5h2M18 100.5h3M23 100.5h1M45 100.5h1M51 100.5h1M65 100.5h1M67 100.5h3M72 100.5h2M86 100.5h1M93 100.5h1M99 100.5h2M103 100.5h1M105 100.5h1M109 100.5h1M115 100.5h1M121 100.5h1M8 101.5h2M11 101.5h1M15 101.5h2M19 101.5h1M22 101.5h2M25 101.5h3M33 101.5h1M53 101.5h1M60 101.5h1M63 101.5h2M70 101.5h1M73 101.5h4M78 101.5h2M82 101.5h2M86 101.5h2M104 101.5h1M106 101.5h2M112 101.5h1M115 101.5h1M119 101.5h1M122 101.5h1" stroke="#000" stroke-width="1" fill="none"/></g>
<path d="M396.3 504V678" stroke="#8a8580" stroke-width="1.4"/>
<text transform="translate(324.09 432.60) scale(0.8425 1)" fill="#000"><tspan x="0.00" y="0" font-family="'Liberation Serif', serif" font-size="34" font-style="italic">(</tspan></text>
<text transform="translate(336.97 436.10) scale(0.8751 1)" fill="#000"><tspan x="0.00" y="0" font-family="'Liberation Serif', serif" font-size="38.5" font-style="italic">p</tspan></text>
<text transform="translate(354.16 444.90) scale(0.9051 1)" fill="#000"><tspan x="0.00" y="0" font-family="'Liberation Serif', serif" font-size="26" font-style="italic">1</tspan></text>
<text transform="translate(369.05 436.10) scale(1.2159 1)" fill="#000"><tspan x="0.00" y="0" font-family="'Liberation Serif', serif" font-size="38.5" font-style="italic">,</tspan></text>
<text transform="translate(378.85 436.10) scale(0.8963 1)" fill="#000"><tspan x="0.00" y="0" font-family="'Liberation Serif', serif" font-size="38.5" font-style="italic">q</tspan></text>
<text transform="translate(396.86 444.90) scale(0.9051 1)" fill="#000"><tspan x="0.00" y="0" font-family="'Liberation Serif', serif" font-size="26" font-style="italic">1</tspan></text>
<text transform="translate(410.28 432.60) scale(0.8581 1)" fill="#000"><tspan x="0.00" y="0" font-family="'Liberation Serif', serif" font-size="34" font-style="italic">)</tspan></text>
<text transform="translate(360.86 479.50) scale(0.8677 1)" fill="#000"><tspan x="0.00" y="0" font-family="'Liberation Serif', serif" font-size="34" font-style="italic">(</tspan></text>
<text transform="translate(374.10 482.30) scale(0.8407 1)" fill="#000"><tspan x="0.00" y="0" font-family="'Liberation Serif', serif" font-size="38.5" font-style="italic">p</tspan></text>
<text transform="translate(391.09 491.10) scale(0.8296 1)" fill="#000"><tspan x="0.00" y="0" font-family="'Liberation Serif', serif" font-size="26" font-style="italic">2</tspan></text>
<text transform="translate(406.21 482.30) scale(1.1652 1)" fill="#000"><tspan x="0.00" y="0" font-family="'Liberation Serif', serif" font-size="38.5" font-style="italic">,</tspan></text>
<text transform="translate(415.87 482.30) scale(0.8846 1)" fill="#000"><tspan x="0.00" y="0" font-family="'Liberation Serif', serif" font-size="38.5" font-style="italic">q</tspan></text>
<text transform="translate(433.89 491.10) scale(0.8296 1)" fill="#000"><tspan x="0.00" y="0" font-family="'Liberation Serif', serif" font-size="26" font-style="italic">2</tspan></text>
<text transform="translate(447.34 479.50) scale(0.8329 1)" fill="#000"><tspan x="0.00" y="0" font-family="'Liberation Serif', serif" font-size="34" font-style="italic">)</tspan></text>
<text transform="translate(406.49 521.20) scale(0.8425 1)" fill="#000"><tspan x="0.00" y="0" font-family="'Liberation Serif', serif" font-size="34" font-style="italic">(</tspan></text>
<text transform="translate(419.49 524.40) scale(0.8800 1)" fill="#000"><tspan x="0.00" y="0" font-family="'Liberation Serif', serif" font-size="38.5" font-style="italic">p</tspan></text>
<text transform="translate(435.74 532.90) scale(0.9891 1)" fill="#000"><tspan x="0.00" y="0" font-family="'Liberation Serif', serif" font-size="27" font-style="italic">m</tspan></text>
<text transform="translate(458.58 524.40) scale(1.1146 1)" fill="#000"><tspan x="0.00" y="0" font-family="'Liberation Serif', serif" font-size="38.5" font-style="italic">,</tspan></text>
<text transform="translate(469.01 524.40) scale(0.8553 1)" fill="#000"><tspan x="0.00" y="0" font-family="'Liberation Serif', serif" font-size="38.5" font-style="italic">q</tspan></text>
<text transform="translate(485.44 532.90) scale(0.9891 1)" fill="#000"><tspan x="0.00" y="0" font-family="'Liberation Serif', serif" font-size="27" font-style="italic">m</tspan></text>
<text transform="translate(506.25 521.20) scale(0.8413 1)" fill="#000"><tspan x="0.00" y="0" font-family="'Liberation Serif', serif" font-size="34" font-style="italic">)</tspan></text>
<text transform="translate(68.11 716.20) scale(1.1174 1)" fill="#000"><tspan x="0.00" y="0" font-family="'Liberation Serif', serif" font-size="28.5" font-weight="bold" fill="#2b4f80">Simulated</tspan><tspan x="123.52" y="0" font-family="'Liberation Serif', serif" font-size="28.5" font-weight="bold"> landscapes</tspan></text>
<text transform="translate(72.67 751.00) scale(1.1049 1)" fill="#000"><tspan x="0.00" y="0" font-family="'Liberation Serif', serif" font-size="28.5" font-weight="bold">from minimal model:</tspan></text>
<text transform="translate(367.89 758.00) scale(0.8800 1)" fill="#000"><tspan x="0.00" y="0" font-family="'Liberation Serif', serif" font-size="40" font-style="italic">ϒ</tspan></text>
<text transform="translate(393.13 746.80) scale(0.9570 1)" fill="#000"><tspan x="0.00" y="0" font-family="'Liberation Serif', serif" font-size="26" font-style="italic">(m)</tspan></text>
<g><path d="M420 244.1 C462.6 242.4 528 281 537 311.5" fill="none" stroke="#000" stroke-width="7.8"/><path d="M539.4 327.3 L515.1 307.3 L536.3 309.5 L555.1 299.9 Z" fill="#000"/></g>
<g transform="translate(0 915.3) scale(1 -1)"><path d="M420 244.1 C462.6 242.4 528 281 537 311.5" fill="none" stroke="#000" stroke-width="7.8"/><path d="M539.4 327.3 L515.1 307.3 L536.3 309.5 L555.1 299.9 Z" fill="#000"/></g>
<text transform="translate(601.48 282.30) scale(1.0087 1)" fill="#000"><tspan x="0.00" y="0" font-family="'Liberation Serif', serif" font-size="38.9" font-weight="bold">Comparison</tspan></text>
<path d="M571.8 381.5L767.4 381.5M767.4 381.5L767.4 573.7M642 319.4L838.2 319.4M838.2 319.4L838.2 513M642 319.4L642 513M642 513L838.2 513M571.8 381.5L642 319.4M767.4 381.5L838.2 319.4M767.4 573.7L838.2 513" stroke="#000" stroke-width="2" fill="none"/>
<circle cx="691" cy="451.4" r="36.8" fill="#d3e7bf" stroke="#a9d18e" stroke-width="1.6"/>
<text transform="translate(652.51 350.60) scale(0.9464 1)" fill="#4f86d0" stroke="#fefefd" stroke-width="0.25"><tspan x="0.00" y="0" font-family="'Liberation Serif', serif" font-size="22.5">x</tspan></text>
<text transform="translate(738.51 352.30) scale(0.9464 1)" fill="#4f86d0" stroke="#fefefd" stroke-width="0.25"><tspan x="0.00" y="0" font-family="'Liberation Serif', serif" font-size="22.5">x</tspan></text>
<text transform="translate(601.91 429.90) scale(0.9464 1)" fill="#4f86d0" stroke="#fefefd" stroke-width="0.25"><tspan x="0.00" y="0" font-family="'Liberation Serif', serif" font-size="22.5">x</tspan></text>
<text transform="translate(655.21 422.40) scale(0.9464 1)" fill="#4f86d0" stroke="#fefefd" stroke-width="0.25"><tspan x="0.00" y="0" font-family="'Liberation Serif', serif" font-size="22.5">x</tspan></text>
<text transform="translate(732.71 412.00) scale(0.9464 1)" fill="#4f86d0" stroke="#fefefd" stroke-width="0.25"><tspan x="0.00" y="0" font-family="'Liberation Serif', serif" font-size="22.5">x</tspan></text>
<text transform="translate(803.61 404.90) scale(0.9464 1)" fill="#4f86d0" stroke="#fefefd" stroke-width="0.25"><tspan x="0.00" y="0" font-family="'Liberation Serif', serif" font-size="22.5">x</tspan></text>
<text transform="translate(671.01 433.20) scale(0.9464 1)" fill="#4f86d0" stroke="#d3e7bf" stroke-width="0.25"><tspan x="0.00" y="0" font-family="'Liberation Serif', serif" font-size="22.5">x</tspan></text>
<text transform="translate(693.01 433.90) scale(0.9464 1)" fill="#4f86d0" stroke="#d3e7bf" stroke-width="0.25"><tspan x="0.00" y="0" font-family="'Liberation Serif', serif" font-size="22.5">x</tspan></text>
<text transform="translate(654.21 452.80) scale(0.9464 1)" fill="#4f86d0" stroke="#d3e7bf" stroke-width="0.25"><tspan x="0.00" y="0" font-family="'Liberation Serif', serif" font-size="22.5">x</tspan></text>
<text transform="translate(703.11 453.50) scale(0.9464 1)" fill="#4f86d0" stroke="#d3e7bf" stroke-width="0.25"><tspan x="0.00" y="0" font-family="'Liberation Serif', serif" font-size="22.5">x</tspan></text>
<text transform="translate(719.91 446.00) scale(0.9464 1)" fill="#4f86d0" stroke="#d3e7bf" stroke-width="0.25"><tspan x="0.00" y="0" font-family="'Liberation Serif', serif" font-size="22.5">x</tspan></text>
<text transform="translate(782.31 442.30) scale(0.9464 1)" fill="#4f86d0" stroke="#fefefd" stroke-width="0.25"><tspan x="0.00" y="0" font-family="'Liberation Serif', serif" font-size="22.5">x</tspan></text>
<text transform="translate(701.41 465.20) scale(0.9464 1)" fill="#4f86d0" stroke="#d3e7bf" stroke-width="0.25"><tspan x="0.00" y="0" font-family="'Liberation Serif', serif" font-size="22.5">x</tspan></text>
<text transform="translate(671.01 477.10) scale(0.9464 1)" fill="#4f86d0" stroke="#d3e7bf" stroke-width="0.25"><tspan x="0.00" y="0" font-family="'Liberation Serif', serif" font-size="22.5">x</tspan></text>
<text transform="translate(699.01 479.40) scale(0.9464 1)" fill="#4f86d0" stroke="#d3e7bf" stroke-width="0.25"><tspan x="0.00" y="0" font-family="'Liberation Serif', serif" font-size="22.5">x</tspan></text>
<text transform="translate(739.51 472.00) scale(0.9464 1)" fill="#4f86d0" stroke="#fefefd" stroke-width="0.25"><tspan x="0.00" y="0" font-family="'Liberation Serif', serif" font-size="22.5">x</tspan></text>
<text transform="translate(780.61 500.00) scale(0.9464 1)" fill="#4f86d0" stroke="#fefefd" stroke-width="0.25"><tspan x="0.00" y="0" font-family="'Liberation Serif', serif" font-size="22.5">x</tspan></text>
<text transform="translate(695.71 507.40) scale(0.9464 1)" fill="#4f86d0" stroke="#fefefd" stroke-width="0.25"><tspan x="0.00" y="0" font-family="'Liberation Serif', serif" font-size="22.5">x</tspan></text>
<text transform="translate(730.11 511.50) scale(0.9464 1)" fill="#4f86d0" stroke="#fefefd" stroke-width="0.25"><tspan x="0.00" y="0" font-family="'Liberation Serif', serif" font-size="22.5">x</tspan></text>
<text transform="translate(648.41 536.10) scale(0.9464 1)" fill="#4f86d0" stroke="#fefefd" stroke-width="0.25"><tspan x="0.00" y="0" font-family="'Liberation Serif', serif" font-size="22.5">x</tspan></text>
<text transform="translate(697.31 541.10) scale(0.9464 1)" fill="#4f86d0" stroke="#fefefd" stroke-width="0.25"><tspan x="0.00" y="0" font-family="'Liberation Serif', serif" font-size="22.5">x</tspan></text>
<text transform="translate(619.81 557.30) scale(0.9464 1)" fill="#4f86d0" stroke="#fefefd" stroke-width="0.25"><tspan x="0.00" y="0" font-family="'Liberation Serif', serif" font-size="22.5">x</tspan></text>
<text transform="translate(729.41 557.30) scale(0.9464 1)" fill="#4f86d0" stroke="#fefefd" stroke-width="0.25"><tspan x="0.00" y="0" font-family="'Liberation Serif', serif" font-size="22.5">x</tspan></text>
<text transform="translate(677.71 464.00) scale(0.9378 1)" fill="#ec6f6b"><tspan x="0.00" y="0" font-family="'Liberation Serif', serif" font-size="51.5" font-weight="bold">x</tspan></text>
<path d="M571.5 576.5L571.5 389.8" stroke="#000" stroke-width="3.8" fill="none"/>
<path d="M571.5 380.8L581.0 392.8L571.5 388.8L562.0 392.8Z" fill="#000"/>
<path d="M569.7 574.8L759.0 574.8" stroke="#000" stroke-width="3.8" fill="none"/>
<path d="M768.0 574.8L756.0 584.3L760.0 574.8L756.0 565.3Z" fill="#000"/>
<path d="M571.0 575.0L635.7 519.2" stroke="#000" stroke-width="5" fill="none"/>
<path d="M642.5 513.3L639.6 528.3L636.4 518.5L627.2 513.9Z" fill="#000"/>
<g transform="translate(661.1 607.3) rotate(0)">
<text transform="translate(-0.38 0.00) scale(0.9142 1)" fill="#000"><tspan x="0.00" y="0" font-family="'Liberation Serif', serif" font-size="35.6" font-style="italic">Stat</tspan></text>
<text transform="translate(53.87 8.20) scale(1.0110 1)" fill="#000"><tspan x="0.00" y="0" font-family="'Liberation Serif', serif" font-size="23" font-style="italic">1</tspan></text>
</g>
<g transform="translate(555.9 482.5) rotate(-90)">
<text transform="translate(-0.38 0.00) scale(0.9142 1)" fill="#000"><tspan x="0.00" y="0" font-family="'Liberation Serif', serif" font-size="35.6" font-style="italic">Stat</tspan></text>
<text transform="translate(54.69 8.20) scale(0.7557 1)" fill="#000"><tspan x="0.00" y="0" font-family="'Liberation Serif', serif" font-size="23" font-style="italic">2</tspan></text>
</g>
<g transform="translate(589 535) rotate(-39)">
<text transform="translate(-0.38 0.00) scale(0.9142 1)" fill="#000"><tspan x="0.00" y="0" font-family="'Liberation Serif', serif" font-size="35.6" font-style="italic">Stat</tspan></text>
<text transform="translate(54.73 8.20) scale(0.7731 1)" fill="#000"><tspan x="0.00" y="0" font-family="'Liberation Serif', serif" font-size="23" font-style="italic">3</tspan></text>
</g>
<path d="M859.5 438.7H897.5L892.5 422.7L916.5 442.8L892.5 462.90000000000003L897.5 446.90000000000003H859.5Z" fill="#000"/>
<path d="M1140.2 435.40000000000003H1169L1164 419.8L1188 439.8L1164 459.8L1169 444.2H1140.2Z" fill="#000"/>
<path d="M1502.5 524.5999999999999H1617.3L1612.3 508.79999999999995L1637.3 528.3L1612.3 547.8L1617.3 532.0H1502.5Z" fill="#000"/>
<text transform="translate(889.55 122.90) scale(1.0212 1)" fill="#000"><tspan x="0.00" y="0" font-family="'Liberation Serif', serif" font-size="37.4" font-weight="bold">Posterior</tspan></text>
<text transform="translate(810.47 166.80) scale(1.0770 1)" fill="#000"><tspan x="0.00" y="0" font-family="'Liberation Serif', serif" font-size="37.4" font-weight="bold">distribution of the</tspan></text>
<text transform="translate(826.32 210.00) scale(1.0147 1)" fill="#000"><tspan x="0.00" y="0" font-family="'Liberation Serif', serif" font-size="37.4" font-weight="bold">parameters (</tspan><tspan x="204.57" y="0" font-family="'Liberation Serif', serif" font-size="37.4" font-weight="bold" font-style="italic">p</tspan><tspan x="223.27" y="0" font-family="'Liberation Serif', serif" font-size="37.4" font-weight="bold">, </tspan><tspan x="241.97" y="0" font-family="'Liberation Serif', serif" font-size="37.4" font-weight="bold" font-style="italic">q</tspan><tspan x="260.67" y="0" font-family="'Liberation Serif', serif" font-size="37.4" font-weight="bold">)</tspan></text>
<rect x="948.9" y="367.1" width="16.6" height="45.5" fill="#e2efda" stroke="#5b8135" stroke-width="2"/>
<rect x="965.5" y="326.0" width="16.4" height="86.6" fill="#e2efda" stroke="#5b8135" stroke-width="2"/>
<rect x="981.9" y="231.3" width="17.1" height="181.3" fill="#e2efda" stroke="#5b8135" stroke-width="2"/>
<rect x="999.0" y="270.1" width="17.0" height="142.5" fill="#e2efda" stroke="#5b8135" stroke-width="2"/>
<rect x="1016.0" y="310.5" width="16.2" height="102.1" fill="#e2efda" stroke="#5b8135" stroke-width="2"/>
<rect x="1032.2" y="356.0" width="17.1" height="56.6" fill="#e2efda" stroke="#5b8135" stroke-width="2"/>
<path d="M931.7 414.6L931.7 243.4" stroke="#000" stroke-width="4" fill="none"/>
<path d="M931.7 234.4L941.2 246.4L931.7 242.4L922.2 246.4Z" fill="#000"/>
<path d="M929.7 412.6L1063.9 412.6" stroke="#000" stroke-width="4" fill="none"/>
<path d="M1072.9 412.6L1060.9 422.1L1064.9 412.6L1060.9 403.1Z" fill="#000"/>
<rect x="939.8" y="621.5" width="16.9" height="65.1" fill="#e2efda" stroke="#5b8135" stroke-width="2"/>
<rect x="956.7" y="559.5" width="16.9" height="127.1" fill="#e2efda" stroke="#5b8135" stroke-width="2"/>
<rect x="973.6" y="526.0" width="16.9" height="160.6" fill="#e2efda" stroke="#5b8135" stroke-width="2"/>
<rect x="990.5" y="529.1" width="16.2" height="157.5" fill="#e2efda" stroke="#5b8135" stroke-width="2"/>
<rect x="1006.7" y="607.7" width="16.6" height="78.9" fill="#e2efda" stroke="#5b8135" stroke-width="2"/>
<rect x="1023.3" y="670.3" width="16.6" height="16.3" fill="#e2efda" stroke="#5b8135" stroke-width="2"/>
<path d="M931.3 688.6L931.3 515.3" stroke="#000" stroke-width="4" fill="none"/>
<path d="M931.3 506.3L940.8 518.3L931.3 514.3L921.8 518.3Z" fill="#000"/>
<path d="M929.3 686.6L1063.8 686.6" stroke="#000" stroke-width="4" fill="none"/>
<path d="M1072.8 686.6L1060.8 696.1L1064.8 686.6L1060.8 677.1Z" fill="#000"/>
<text transform="translate(988.07 454.80) scale(0.8751 1)" fill="#000"><tspan x="0.00" y="0" font-family="'Liberation Serif', serif" font-size="38.5" font-style="italic">p</tspan></text>
<text transform="translate(1004.39 463.60) scale(0.8845 1)" fill="#000"><tspan x="0.00" y="0" font-family="'Liberation Serif', serif" font-size="26" font-style="italic">est</tspan></text>
<text transform="translate(971.88 727.70) scale(0.8788 1)" fill="#000"><tspan x="0.00" y="0" font-family="'Liberation Serif', serif" font-size="38.5" font-style="italic">q</tspan></text>
<text transform="translate(988.78 736.10) scale(0.8950 1)" fill="#000"><tspan x="0.00" y="0" font-family="'Liberation Serif', serif" font-size="26" font-style="italic">est</tspan></text>
<text transform="translate(1273.90 175.30) scale(1.0745 1)" fill="#000"><tspan x="0.00" y="0" font-family="'Liberation Serif', serif" font-size="37" font-weight="bold">Distribution of distances to</tspan></text>
<text transform="translate(1299.49 219.00) scale(1.0745 1)" fill="#000"><tspan x="0.00" y="0" font-family="'Liberation Serif', serif" font-size="37" font-weight="bold">degradation point using</tspan></text>
<text transform="translate(1270.10 263.30) scale(1.0672 1)" fill="#000"><tspan x="0.00" y="0" font-family="'Liberation Serif', serif" font-size="37" font-weight="bold">posterior distribution of</tspan></text>
<text transform="translate(1684.22 263.30) scale(0.9941 1)" fill="#000"><tspan x="0.00" y="0" font-family="'Liberation Serif', serif" font-size="37" font-weight="bold" font-style="italic">p</tspan></text>
<text transform="translate(1703.56 270.50) scale(1.0968 1)" fill="#000"><tspan x="0.00" y="0" font-family="'Liberation Serif', serif" font-size="25" font-weight="bold" font-style="italic">est</tspan></text>
<text transform="translate(1217.86 338.40) scale(1.1246 1)" fill="#000"><tspan x="0.00" y="0" font-family="'Liberation Serif', serif" font-size="34.5">Vegetation</tspan></text>
<text transform="translate(1258.54 382.80) scale(1.1134 1)" fill="#000"><tspan x="0.00" y="0" font-family="'Liberation Serif', serif" font-size="34.5">cover</tspan></text>
<path d="M1230.8 612.5L1230.8 372.6" stroke="#000" stroke-width="3.2" fill="none"/>
<path d="M1230.8 362.8L1240.5 374.8L1230.8 371.6L1221.1 374.8Z" fill="#000"/>
<path d="M1229.2 610.7L1535.3 610.7" stroke="#000" stroke-width="3.2" fill="none"/>
<path d="M1545.1 610.7L1533.1 620.4L1536.3 610.7L1533.1 601.0Z" fill="#000"/>
<path d="M1229.2 586.2H1277" stroke="#000" stroke-width="3.6"/>
<path d="M1277.6 528.7 C1273.3 506 1320.3 472.8 1346.8 457.3 L1460 391.4" fill="none" stroke="#000" stroke-width="3.9"/>
<path d="M1465.4 377 L1473.4 392.5 L1457.4 392.5 Z" fill="#a9d18e" stroke="#70ad47" stroke-width="1.4"/>
<text transform="translate(1481.04 384.70) scale(0.8952 1)" fill="#000"><tspan x="0.00" y="0" font-family="'Liberation Serif', serif" font-size="37" font-style="italic">p</tspan></text>
<text transform="translate(1497.09 393.70) scale(0.9019 1)" fill="#000"><tspan x="0.00" y="0" font-family="'Liberation Serif', serif" font-size="25.5" font-style="italic">est</tspan></text>
<text transform="translate(1244.76 506.60) scale(0.8934 1)" fill="#000"><tspan x="0.00" y="0" font-family="'Liberation Serif', serif" font-size="37.5" font-style="italic">p</tspan></text>
<text transform="translate(1260.91 515.60) scale(0.8603 1)" fill="#000"><tspan x="0.00" y="0" font-family="'Liberation Serif', serif" font-size="26" font-style="italic">c</tspan></text>
<path d="M1288 530.7 H1458" stroke="#8a47c4" stroke-width="5"/>
<path d="M1280 530.7 L1294.7 517.6 L1290 530.7 L1294.7 544 Z" fill="#8a47c4"/>
<path d="M1466 530.2 L1450.2 516.9 L1455 530.2 L1450.2 543 Z" fill="#8a47c4"/>
<text transform="translate(1269.42 537.60) scale(0.9117 1)" fill="#000"><tspan x="0.00" y="0" font-family="'Liberation Serif', serif" font-size="38" font-weight="bold" font-style="italic">x</tspan></text>
<text transform="translate(1344.61 576.00) scale(1.1213 1)" fill="#8a47c4"><tspan x="0.00" y="0" font-family="'Liberation Serif', serif" font-size="38" font-weight="bold" font-style="italic">Dist</tspan></text>
<text transform="translate(1530.16 651.00) scale(0.8259 1)" fill="#000"><tspan x="0.00" y="0" font-family="'Liberation Serif', serif" font-size="38.5" font-style="italic">p</tspan></text>
<rect x="1557.4" y="445.6" width="7.8" height="20.0" fill="#e2efda" stroke="#5b8135" stroke-width="1.6"/>
<rect x="1565.2" y="427.4" width="7.8" height="38.2" fill="#e2efda" stroke="#5b8135" stroke-width="1.6"/>
<rect x="1573.0" y="384.4" width="7.9" height="81.2" fill="#e2efda" stroke="#5b8135" stroke-width="1.6"/>
<rect x="1580.9" y="401.7" width="7.2" height="63.9" fill="#e2efda" stroke="#5b8135" stroke-width="1.6"/>
<rect x="1588.1" y="420.2" width="7.5" height="45.4" fill="#e2efda" stroke="#5b8135" stroke-width="1.6"/>
<rect x="1595.6" y="440.5" width="7.8" height="25.1" fill="#e2efda" stroke="#5b8135" stroke-width="1.6"/>
<path d="M1548.9 467.5L1548.9 394.6" stroke="#000" stroke-width="3.8" fill="none"/>
<path d="M1548.9 386.6L1557.4 397.1L1548.9 393.6L1540.4 397.1Z" fill="#000"/>
<path d="M1547.0 465.6L1604.8 465.6" stroke="#000" stroke-width="3.8" fill="none"/>
<path d="M1612.8 465.6L1602.3 474.1L1605.8 465.6L1602.3 457.1Z" fill="#000"/>
<text transform="translate(1563.37 501.60) scale(0.8866 1)" fill="#000"><tspan x="0.00" y="0" font-family="'Liberation Serif', serif" font-size="38" font-style="italic">p</tspan></text>
<text transform="translate(1579.69 510.40) scale(0.8845 1)" fill="#000"><tspan x="0.00" y="0" font-family="'Liberation Serif', serif" font-size="26" font-style="italic">est</tspan></text>
<rect x="1671.8" y="530.8" width="15.6" height="23.5" fill="#d9c9eb" stroke="#8844c4" stroke-width="2"/>
<rect x="1687.4" y="449.3" width="16.6" height="105.0" fill="#d9c9eb" stroke="#8844c4" stroke-width="2"/>
<rect x="1704.0" y="403.2" width="16.7" height="151.1" fill="#d9c9eb" stroke="#8844c4" stroke-width="2"/>
<rect x="1720.7" y="453.1" width="16.6" height="101.2" fill="#d9c9eb" stroke="#8844c4" stroke-width="2"/>
<rect x="1737.3" y="483.2" width="15.3" height="71.1" fill="#d9c9eb" stroke="#8844c4" stroke-width="2"/>
<rect x="1752.6" y="532.4" width="16.3" height="21.9" fill="#d9c9eb" stroke="#8844c4" stroke-width="2"/>
<path d="M1661.7 556.3L1661.7 383.1" stroke="#000" stroke-width="4" fill="none"/>
<path d="M1661.7 374.1L1671.2 386.1L1661.7 382.1L1652.2 386.1Z" fill="#000"/>
<path d="M1659.7 554.3L1794.4 554.3" stroke="#000" stroke-width="4" fill="none"/>
<path d="M1803.4 554.3L1791.4 563.8L1795.4 554.3L1791.4 544.8Z" fill="#000"/>
<text transform="translate(1693.12 594.90) scale(0.9595 1)" fill="#000"><tspan x="0.00" y="0" font-family="'Liberation Serif', serif" font-size="38.6" font-style="italic">Dist</tspan></text>
</svg>
</body></html>
